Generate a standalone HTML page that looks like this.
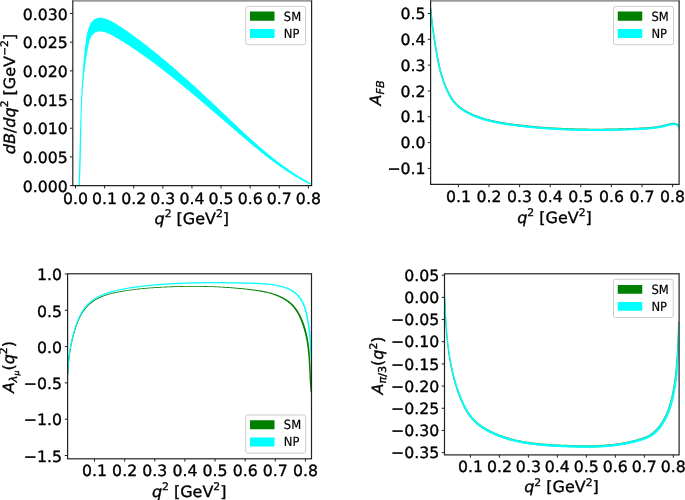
<!DOCTYPE html>
<html><head><meta charset="utf-8"><title>plot</title>
<style>html,body{margin:0;padding:0;background:#fff;}svg{display:block;}</style></head>
<body>
<svg width="685" height="500" viewBox="0 0 685 500" font-family='"DejaVu Sans", "Liberation Sans", sans-serif' fill="#000" stroke="#000" stroke-width="0">
<rect width="685" height="500" fill="#fff"/>
<style>text{text-rendering:geometricPrecision;stroke:#000;stroke-width:0.35px;stroke-linejoin:round}text.lg{stroke-width:0.2px}</style>
<clipPath id="c1"><rect x="72.8" y="0.5" width="238.8" height="185.2"/></clipPath>
<path d="M78.49 185.95 L78.55 184.46 L78.60 182.98 L78.65 181.50 L78.70 180.02 L78.75 178.53 L78.80 177.05 L78.85 175.56 L78.89 174.08 L78.94 172.59 L78.98 171.11 L79.02 169.62 L79.07 168.13 L79.11 166.65 L79.15 165.16 L79.19 163.67 L79.23 162.18 L79.27 160.69 L79.31 159.20 L79.35 157.71 L79.38 156.22 L79.42 154.73 L79.46 153.24 L79.50 151.75 L79.53 150.26 L79.57 148.77 L79.61 147.28 L79.65 145.79 L79.68 144.29 L79.72 142.80 L79.76 141.31 L79.80 139.82 L79.84 138.32 L79.87 136.83 L79.91 135.34 L79.95 133.85 L79.99 132.35 L80.03 130.86 L80.07 129.37 L80.12 127.87 L80.16 126.38 L80.20 124.89 L80.25 123.39 L80.29 121.90 L80.34 120.41 L80.39 118.91 L80.44 117.42 L80.49 115.93 L80.54 114.44 L80.59 112.94 L80.64 111.45 L80.70 109.96 L80.75 108.47 L80.81 106.97 L80.87 105.48 L80.93 103.99 L81.00 102.50 L81.06 101.01 L81.13 99.52 L81.19 98.03 L81.26 96.53 L81.34 95.04 L81.41 93.55 L81.49 92.07 L81.56 90.58 L81.64 89.09 L81.73 87.60 L81.81 86.11 L81.90 84.62 L81.99 83.14 L82.08 81.65 L82.17 80.16 L82.27 78.68 L82.37 77.19 L82.47 75.71 L82.58 74.22 L82.69 72.74 L82.80 71.25 L82.91 69.77 L83.03 68.29 L83.15 66.81 L83.27 65.33 L83.39 63.85 L83.52 62.37 L83.65 60.89 L83.79 59.41 L83.93 57.93 L84.07 56.45 L84.22 54.98 L84.37 53.50 L84.52 52.03 L84.67 50.55 L84.83 49.08 L85.00 47.61 L85.16 46.13 L85.34 44.66 L85.51 43.19 L85.70 41.72 L85.90 40.25 L86.12 38.78 L86.36 37.30 L86.62 35.83 L86.92 34.35 L87.25 32.87 L87.61 31.39 L88.02 29.90 L88.48 28.41 L88.99 26.94 L89.57 25.51 L90.23 24.14 L90.98 22.86 L91.83 21.68 L92.79 20.63 L93.88 19.73 L95.07 19.00 L96.35 18.43 L97.71 18.03 L99.11 17.82 L100.56 17.79 L102.02 17.93 L103.50 18.21 L104.98 18.61 L106.46 19.11 L107.90 19.67 L109.32 20.28 L110.71 20.94 L112.06 21.62 L113.38 22.33 L114.68 23.07 L115.96 23.83 L117.22 24.60 L118.46 25.39 L119.70 26.18 L120.93 26.99 L122.17 27.80 L123.39 28.62 L124.62 29.45 L125.84 30.28 L127.07 31.12 L128.28 31.96 L129.50 32.81 L130.71 33.67 L131.92 34.53 L133.13 35.40 L134.34 36.27 L135.54 37.15 L136.74 38.03 L137.94 38.92 L139.14 39.81 L140.33 40.71 L141.52 41.61 L142.71 42.51 L143.89 43.42 L145.08 44.34 L146.26 45.25 L147.44 46.17 L148.61 47.10 L149.79 48.03 L150.96 48.96 L152.13 49.89 L153.29 50.83 L154.46 51.77 L155.62 52.71 L156.78 53.66 L157.94 54.60 L159.09 55.55 L160.25 56.50 L161.40 57.46 L162.55 58.41 L163.69 59.37 L164.84 60.33 L165.98 61.29 L167.12 62.25 L168.25 63.21 L169.39 64.18 L170.52 65.15 L171.66 66.12 L172.79 67.09 L173.91 68.06 L175.04 69.04 L176.16 70.01 L177.29 70.99 L178.41 71.97 L179.53 72.95 L180.64 73.93 L181.76 74.92 L182.87 75.90 L183.99 76.89 L185.10 77.88 L186.21 78.87 L187.32 79.86 L188.42 80.85 L189.53 81.85 L190.63 82.84 L191.74 83.84 L192.84 84.84 L193.94 85.84 L195.04 86.84 L196.14 87.84 L197.23 88.84 L198.33 89.85 L199.42 90.85 L200.52 91.86 L201.61 92.87 L202.70 93.88 L203.79 94.89 L204.89 95.90 L205.97 96.92 L207.06 97.93 L208.15 98.94 L209.24 99.96 L210.33 100.98 L211.41 102.00 L212.50 103.02 L213.58 104.04 L214.67 105.06 L215.75 106.08 L216.83 107.10 L217.92 108.13 L219.00 109.15 L220.08 110.18 L221.16 111.20 L222.25 112.23 L223.33 113.26 L224.41 114.29 L225.49 115.31 L226.57 116.34 L227.65 117.37 L228.74 118.40 L229.82 119.43 L230.90 120.46 L231.99 121.49 L233.07 122.51 L234.15 123.54 L235.24 124.57 L236.33 125.59 L237.41 126.62 L238.50 127.64 L239.59 128.66 L240.68 129.68 L241.78 130.70 L242.87 131.72 L243.97 132.73 L245.06 133.75 L246.16 134.76 L247.26 135.77 L248.36 136.78 L249.47 137.78 L250.57 138.78 L251.68 139.78 L252.79 140.78 L253.90 141.78 L255.02 142.77 L256.13 143.76 L257.25 144.74 L258.37 145.72 L259.50 146.70 L260.63 147.68 L261.76 148.65 L262.89 149.61 L264.02 150.58 L265.16 151.54 L266.31 152.49 L267.45 153.44 L268.60 154.39 L269.75 155.33 L270.91 156.27 L272.07 157.20 L273.23 158.13 L274.40 159.05 L275.57 159.97 L276.74 160.88 L277.92 161.78 L279.10 162.68 L280.29 163.58 L281.48 164.47 L282.67 165.35 L283.87 166.23 L285.08 167.10 L286.29 167.97 L287.50 168.82 L288.72 169.68 L289.94 170.52 L291.17 171.36 L292.40 172.19 L293.64 173.02 L294.88 173.84 L296.13 174.65 L297.38 175.45 L298.64 176.24 L299.91 177.03 L301.18 177.81 L302.45 178.58 L303.74 179.35 L305.02 180.10 L306.32 180.85 L307.62 181.59 L308.92 182.32 L310.23 183.05 L311.55 183.76 L311.53 185.12 L310.25 184.50 L308.97 183.88 L307.70 183.25 L306.43 182.61 L305.17 181.96 L303.92 181.30 L302.67 180.63 L301.43 179.95 L300.19 179.26 L298.96 178.57 L297.73 177.86 L296.51 177.15 L295.29 176.43 L294.08 175.71 L292.87 174.97 L291.67 174.23 L290.47 173.48 L289.28 172.72 L288.09 171.96 L286.91 171.18 L285.73 170.41 L284.56 169.62 L283.39 168.83 L282.22 168.03 L281.06 167.23 L279.90 166.42 L278.75 165.60 L277.60 164.78 L276.45 163.95 L275.31 163.12 L274.17 162.28 L273.03 161.44 L271.90 160.59 L270.77 159.74 L269.65 158.88 L268.52 158.02 L267.40 157.16 L266.28 156.29 L265.17 155.41 L264.06 154.53 L262.95 153.65 L261.84 152.77 L260.74 151.88 L259.63 150.99 L258.53 150.09 L257.44 149.20 L256.34 148.30 L255.25 147.39 L254.15 146.49 L253.06 145.58 L251.97 144.67 L250.89 143.76 L249.80 142.84 L248.72 141.93 L247.63 141.01 L246.55 140.09 L245.47 139.18 L244.39 138.26 L243.31 137.33 L242.23 136.41 L241.16 135.49 L240.08 134.57 L239.00 133.64 L237.93 132.72 L236.85 131.80 L235.78 130.87 L234.70 129.95 L233.63 129.03 L232.56 128.10 L231.48 127.18 L230.41 126.25 L229.34 125.33 L228.27 124.40 L227.19 123.48 L226.12 122.56 L225.05 121.63 L223.98 120.71 L222.90 119.79 L221.83 118.86 L220.76 117.94 L219.69 117.02 L218.62 116.09 L217.55 115.17 L216.47 114.25 L215.40 113.33 L214.33 112.40 L213.25 111.48 L212.18 110.56 L211.11 109.64 L210.03 108.72 L208.96 107.80 L207.89 106.88 L206.81 105.97 L205.74 105.05 L204.66 104.13 L203.58 103.21 L202.51 102.30 L201.43 101.38 L200.35 100.47 L199.27 99.56 L198.19 98.64 L197.11 97.73 L196.03 96.82 L194.95 95.91 L193.86 95.00 L192.78 94.09 L191.70 93.18 L190.61 92.28 L189.52 91.37 L188.44 90.47 L187.35 89.56 L186.26 88.66 L185.17 87.76 L184.07 86.86 L182.98 85.96 L181.89 85.06 L180.79 84.16 L179.69 83.27 L178.60 82.37 L177.50 81.48 L176.40 80.59 L175.29 79.70 L174.19 78.81 L173.09 77.92 L171.98 77.04 L170.87 76.15 L169.76 75.27 L168.65 74.39 L167.54 73.51 L166.42 72.64 L165.31 71.76 L164.19 70.89 L163.07 70.02 L161.95 69.16 L160.82 68.29 L159.70 67.43 L158.57 66.57 L157.44 65.71 L156.31 64.86 L155.18 64.01 L154.05 63.16 L152.91 62.31 L151.77 61.47 L150.63 60.63 L149.49 59.79 L148.34 58.96 L147.20 58.13 L146.05 57.30 L144.89 56.48 L143.74 55.65 L142.58 54.84 L141.43 54.02 L140.27 53.21 L139.10 52.41 L137.94 51.61 L136.77 50.81 L135.60 50.01 L134.42 49.22 L133.25 48.43 L132.07 47.65 L130.89 46.87 L129.71 46.10 L128.52 45.33 L127.33 44.56 L126.14 43.80 L124.95 43.05 L123.75 42.30 L122.55 41.55 L121.35 40.81 L120.14 40.07 L118.93 39.34 L117.72 38.61 L116.51 37.89 L115.29 37.17 L114.07 36.46 L112.84 35.77 L111.59 35.10 L110.34 34.46 L109.06 33.85 L107.77 33.29 L106.45 32.77 L105.10 32.31 L103.72 31.92 L102.31 31.60 L100.88 31.38 L99.44 31.35 L98.02 31.54 L96.64 31.95 L95.34 32.55 L94.14 33.32 L93.08 34.22 L92.17 35.23 L91.40 36.34 L90.76 37.52 L90.22 38.78 L89.76 40.09 L89.38 41.44 L89.04 42.82 L88.74 44.22 L88.46 45.63 L88.18 47.03 L87.90 48.44 L87.64 49.84 L87.38 51.25 L87.13 52.66 L86.89 54.06 L86.65 55.47 L86.42 56.87 L86.20 58.28 L85.99 59.69 L85.78 61.10 L85.58 62.50 L85.38 63.91 L85.19 65.32 L85.01 66.73 L84.83 68.13 L84.66 69.54 L84.50 70.95 L84.34 72.36 L84.18 73.77 L84.03 75.18 L83.89 76.58 L83.75 77.99 L83.62 79.40 L83.49 80.81 L83.37 82.22 L83.25 83.63 L83.14 85.04 L83.03 86.45 L82.92 87.86 L82.82 89.27 L82.73 90.68 L82.63 92.09 L82.55 93.50 L82.46 94.91 L82.38 96.32 L82.30 97.74 L82.23 99.15 L82.16 100.56 L82.09 101.97 L82.03 103.38 L81.97 104.79 L81.91 106.21 L81.85 107.62 L81.80 109.03 L81.75 110.44 L81.70 111.85 L81.66 113.27 L81.61 114.68 L81.57 116.09 L81.53 117.51 L81.50 118.92 L81.46 120.33 L81.43 121.75 L81.40 123.16 L81.36 124.57 L81.33 125.99 L81.31 127.40 L81.28 128.81 L81.25 130.23 L81.23 131.64 L81.20 133.06 L81.18 134.47 L81.15 135.89 L81.13 137.30 L81.10 138.72 L81.08 140.13 L81.06 141.55 L81.03 142.96 L81.01 144.38 L80.99 145.79 L80.96 147.21 L80.94 148.62 L80.91 150.04 L80.88 151.45 L80.86 152.87 L80.83 154.28 L80.80 155.70 L80.77 157.12 L80.73 158.53 L80.70 159.95 L80.66 161.37 L80.63 162.78 L80.59 164.20 L80.54 165.61 L80.50 167.03 L80.45 168.45 L80.41 169.86 L80.36 171.28 L80.30 172.70 L80.25 174.12 L80.19 175.53 L80.13 176.95 L80.06 178.37 L79.99 179.78 L79.92 181.20 L79.85 182.62 L79.77 184.04 L79.69 185.45 Z" fill="#00ffff" clip-path="url(#c1)"/>
<rect x="72.3" y="0" width="239.8" height="1.7" fill="#999"/>
<path d="M72.8 0.6 V185.7 H311.6 V0.6" fill="none" stroke="#222" stroke-width="1.2"/>
<line x1="75.50" y1="185.7" x2="75.50" y2="188.5" stroke="#222" stroke-width="1.0"/>
<text transform="translate(75.50 203.55) scale(1.015 1)" font-size="15.5" text-anchor="middle">0.0</text>
<line x1="104.61" y1="185.7" x2="104.61" y2="188.5" stroke="#222" stroke-width="1.0"/>
<text transform="translate(104.61 203.55) scale(1.015 1)" font-size="15.5" text-anchor="middle">0.1</text>
<line x1="133.72" y1="185.7" x2="133.72" y2="188.5" stroke="#222" stroke-width="1.0"/>
<text transform="translate(133.72 203.55) scale(1.015 1)" font-size="15.5" text-anchor="middle">0.2</text>
<line x1="162.83" y1="185.7" x2="162.83" y2="188.5" stroke="#222" stroke-width="1.0"/>
<text transform="translate(162.83 203.55) scale(1.015 1)" font-size="15.5" text-anchor="middle">0.3</text>
<line x1="191.94" y1="185.7" x2="191.94" y2="188.5" stroke="#222" stroke-width="1.0"/>
<text transform="translate(191.94 203.55) scale(1.015 1)" font-size="15.5" text-anchor="middle">0.4</text>
<line x1="221.05" y1="185.7" x2="221.05" y2="188.5" stroke="#222" stroke-width="1.0"/>
<text transform="translate(221.05 203.55) scale(1.015 1)" font-size="15.5" text-anchor="middle">0.5</text>
<line x1="250.16" y1="185.7" x2="250.16" y2="188.5" stroke="#222" stroke-width="1.0"/>
<text transform="translate(250.16 203.55) scale(1.015 1)" font-size="15.5" text-anchor="middle">0.6</text>
<line x1="279.27" y1="185.7" x2="279.27" y2="188.5" stroke="#222" stroke-width="1.0"/>
<text transform="translate(279.27 203.55) scale(1.015 1)" font-size="15.5" text-anchor="middle">0.7</text>
<line x1="308.38" y1="185.7" x2="308.38" y2="188.5" stroke="#222" stroke-width="1.0"/>
<text transform="translate(308.38 203.55) scale(1.015 1)" font-size="15.5" text-anchor="middle">0.8</text>
<line x1="70.0" y1="13.50" x2="72.8" y2="13.50" stroke="#222" stroke-width="1.0"/>
<text transform="translate(67.80 19.70) scale(1.015 1)" font-size="15.5" text-anchor="end">0.030</text>
<line x1="70.0" y1="42.18" x2="72.8" y2="42.18" stroke="#222" stroke-width="1.0"/>
<text transform="translate(67.80 48.38) scale(1.015 1)" font-size="15.5" text-anchor="end">0.025</text>
<line x1="70.0" y1="70.86" x2="72.8" y2="70.86" stroke="#222" stroke-width="1.0"/>
<text transform="translate(67.80 77.06) scale(1.015 1)" font-size="15.5" text-anchor="end">0.020</text>
<line x1="70.0" y1="99.54" x2="72.8" y2="99.54" stroke="#222" stroke-width="1.0"/>
<text transform="translate(67.80 105.74) scale(1.015 1)" font-size="15.5" text-anchor="end">0.015</text>
<line x1="70.0" y1="128.22" x2="72.8" y2="128.22" stroke="#222" stroke-width="1.0"/>
<text transform="translate(67.80 134.42) scale(1.015 1)" font-size="15.5" text-anchor="end">0.010</text>
<line x1="70.0" y1="156.90" x2="72.8" y2="156.90" stroke="#222" stroke-width="1.0"/>
<text transform="translate(67.80 163.10) scale(1.015 1)" font-size="15.5" text-anchor="end">0.005</text>
<line x1="70.0" y1="185.58" x2="72.8" y2="185.58" stroke="#222" stroke-width="1.0"/>
<text transform="translate(67.80 191.78) scale(1.015 1)" font-size="15.5" text-anchor="end">0.000</text>
<text transform="translate(191.80 223.70) scale(1.03 1)" font-size="15.5" text-anchor="middle"><tspan font-style="italic">q</tspan><tspan font-size="10.5" dy="-6.7">2</tspan><tspan dy="6.7"> [GeV</tspan><tspan font-size="10.5" dy="-6.7">2</tspan><tspan dy="6.7">]</tspan></text>
<text transform="translate(14.70 94.00) rotate(-90) scale(1.03 1)" font-size="15.5" text-anchor="middle"><tspan font-style="italic">dB</tspan>/<tspan font-style="italic">dq</tspan><tspan font-size="10.5" dy="-6.7">2</tspan><tspan dy="6.7"> [GeV</tspan><tspan font-size="10.5" dy="-6.7">−2</tspan><tspan dy="6.7">]</tspan></text>
<rect x="245.75" y="6.4" width="59.85000000000002" height="38.35" rx="2" ry="2" fill="#fff" fill-opacity="0.8" stroke="#cccccc" stroke-width="1"/>
<rect x="250" y="11.5" width="24.5" height="9.25" fill="#008000"/>
<rect x="250" y="29" width="24.5" height="9" fill="#00ffff"/>
<text class="lg" transform="translate(283.80 20.55) scale(0.91 1)" font-size="12.7" text-anchor="start">SM</text>
<text class="lg" transform="translate(283.80 37.80) scale(0.91 1)" font-size="12.7" text-anchor="start">NP</text>
<clipPath id="c2"><rect x="430.6" y="0.5" width="248.5" height="183.9"/></clipPath>
<path d="M429.94 8.69 L430.01 9.53 L430.08 10.36 L430.16 11.19 L430.23 12.02 L430.31 12.86 L430.39 13.69 L430.47 14.52 L430.55 15.34 L430.64 16.17 L430.73 17.00 L430.82 17.83 L430.91 18.65 L431.00 19.48 L431.09 20.30 L431.19 21.13 L431.29 21.95 L431.38 22.78 L431.48 23.60 L431.59 24.42 L431.69 25.24 L431.80 26.07 L431.90 26.89 L432.01 27.71 L432.12 28.53 L432.23 29.35 L432.34 30.17 L432.45 30.99 L432.57 31.81 L432.68 32.63 L432.79 33.45 L432.91 34.27 L433.03 35.09 L433.15 35.91 L433.27 36.73 L433.39 37.55 L433.51 38.37 L433.63 39.19 L433.76 40.01 L433.88 40.83 L434.01 41.65 L434.14 42.47 L434.27 43.29 L434.39 44.11 L434.52 44.93 L434.66 45.75 L434.79 46.57 L434.92 47.39 L435.06 48.21 L435.19 49.03 L435.33 49.85 L435.47 50.67 L435.61 51.49 L435.75 52.31 L435.89 53.13 L436.04 53.95 L436.18 54.77 L436.33 55.59 L436.48 56.41 L436.63 57.23 L436.79 58.05 L436.95 58.87 L437.11 59.69 L437.27 60.51 L437.43 61.33 L437.60 62.14 L437.76 62.96 L437.94 63.78 L438.11 64.59 L438.29 65.41 L438.47 66.22 L438.66 67.04 L438.85 67.85 L439.04 68.66 L439.24 69.47 L439.44 70.28 L439.64 71.09 L439.85 71.89 L440.07 72.70 L440.29 73.50 L440.51 74.31 L440.74 75.11 L440.97 75.91 L441.21 76.71 L441.45 77.51 L441.70 78.30 L441.96 79.09 L442.22 79.89 L442.48 80.68 L442.75 81.47 L443.03 82.25 L443.31 83.04 L443.60 83.82 L443.89 84.60 L444.20 85.38 L444.50 86.16 L444.82 86.93 L445.14 87.70 L445.47 88.47 L445.80 89.24 L446.15 90.01 L446.49 90.77 L446.85 91.53 L447.22 92.29 L447.59 93.04 L447.97 93.80 L448.36 94.54 L448.76 95.29 L449.17 96.03 L449.59 96.77 L450.02 97.49 L450.46 98.22 L450.91 98.93 L451.38 99.64 L451.86 100.34 L452.35 101.02 L452.86 101.70 L453.38 102.37 L453.92 103.02 L454.47 103.66 L455.04 104.29 L455.63 104.90 L456.23 105.50 L456.84 106.09 L457.47 106.66 L458.11 107.21 L458.76 107.76 L459.42 108.29 L460.10 108.80 L460.78 109.31 L461.48 109.80 L462.18 110.28 L462.89 110.75 L463.61 111.21 L464.33 111.65 L465.07 112.09 L465.80 112.51 L466.55 112.93 L467.30 113.33 L468.05 113.73 L468.80 114.11 L469.56 114.49 L470.33 114.86 L471.09 115.22 L471.86 115.57 L472.63 115.91 L473.41 116.25 L474.19 116.57 L474.97 116.89 L475.75 117.20 L476.54 117.51 L477.33 117.80 L478.12 118.09 L478.91 118.37 L479.70 118.65 L480.50 118.92 L481.30 119.18 L482.09 119.43 L482.89 119.68 L483.69 119.92 L484.50 120.15 L485.30 120.38 L486.10 120.61 L486.91 120.82 L487.72 121.04 L488.52 121.24 L489.33 121.45 L490.14 121.64 L490.95 121.84 L491.76 122.02 L492.57 122.21 L493.39 122.39 L494.20 122.56 L495.01 122.73 L495.83 122.90 L496.65 123.06 L497.46 123.22 L498.28 123.37 L499.10 123.52 L499.91 123.67 L500.73 123.81 L501.55 123.95 L502.37 124.09 L503.19 124.22 L504.01 124.35 L504.84 124.48 L505.66 124.61 L506.48 124.73 L507.30 124.86 L508.12 124.97 L508.95 125.09 L509.77 125.21 L510.59 125.32 L511.41 125.43 L512.24 125.54 L513.06 125.65 L513.88 125.76 L514.71 125.87 L515.53 125.97 L516.36 126.07 L517.18 126.18 L518.00 126.28 L518.83 126.38 L519.65 126.48 L520.48 126.57 L521.30 126.67 L522.13 126.76 L522.95 126.86 L523.78 126.95 L524.61 127.04 L525.43 127.13 L526.26 127.22 L527.08 127.30 L527.91 127.39 L528.74 127.47 L529.56 127.56 L530.39 127.64 L531.22 127.72 L532.04 127.80 L532.87 127.88 L533.70 127.96 L534.53 128.03 L535.35 128.11 L536.18 128.18 L537.01 128.25 L537.84 128.32 L538.67 128.39 L539.49 128.46 L540.32 128.53 L541.15 128.60 L541.98 128.66 L542.81 128.73 L543.64 128.79 L544.47 128.85 L545.30 128.91 L546.13 128.97 L546.96 129.03 L547.78 129.09 L548.61 129.15 L549.44 129.20 L550.27 129.26 L551.10 129.31 L551.93 129.36 L552.76 129.41 L553.59 129.46 L554.42 129.51 L555.25 129.56 L556.08 129.61 L556.91 129.65 L557.74 129.70 L558.57 129.74 L559.41 129.78 L560.24 129.82 L561.07 129.86 L561.90 129.90 L562.73 129.94 L563.56 129.98 L564.39 130.01 L565.22 130.05 L566.05 130.08 L566.88 130.12 L567.71 130.15 L568.54 130.18 L569.38 130.21 L570.21 130.24 L571.04 130.27 L571.87 130.29 L572.70 130.32 L573.53 130.34 L574.36 130.37 L575.19 130.39 L576.02 130.41 L576.86 130.43 L577.69 130.45 L578.52 130.47 L579.35 130.49 L580.18 130.51 L581.01 130.53 L581.84 130.54 L582.67 130.56 L583.51 130.57 L584.34 130.58 L585.17 130.59 L586.00 130.61 L586.83 130.62 L587.66 130.62 L588.49 130.63 L589.32 130.64 L590.15 130.65 L590.99 130.65 L591.82 130.66 L592.65 130.66 L593.48 130.66 L594.31 130.67 L595.14 130.67 L595.97 130.67 L596.80 130.67 L597.63 130.67 L598.46 130.66 L599.29 130.66 L600.12 130.66 L600.95 130.65 L601.78 130.65 L602.61 130.64 L603.44 130.64 L604.27 130.63 L605.10 130.62 L605.93 130.61 L606.76 130.60 L607.59 130.59 L608.42 130.58 L609.25 130.56 L610.08 130.55 L610.91 130.54 L611.74 130.52 L612.57 130.51 L613.40 130.49 L614.23 130.47 L615.06 130.46 L615.89 130.44 L616.71 130.42 L617.54 130.40 L618.37 130.38 L619.20 130.36 L620.03 130.33 L620.86 130.31 L621.68 130.29 L622.51 130.26 L623.34 130.24 L624.17 130.21 L624.99 130.19 L625.82 130.16 L626.65 130.13 L627.47 130.10 L628.30 130.07 L629.13 130.04 L629.95 130.01 L630.78 129.98 L631.61 129.95 L632.43 129.92 L633.26 129.89 L634.08 129.85 L634.91 129.82 L635.73 129.78 L636.56 129.75 L637.38 129.71 L638.21 129.68 L639.03 129.64 L639.86 129.60 L640.68 129.56 L641.51 129.52 L642.33 129.48 L643.16 129.44 L643.98 129.40 L644.81 129.35 L645.64 129.30 L646.46 129.25 L647.29 129.19 L648.12 129.13 L648.95 129.07 L649.78 129.00 L650.61 128.93 L651.44 128.85 L652.27 128.76 L653.10 128.67 L653.94 128.58 L654.77 128.47 L655.61 128.36 L656.44 128.24 L657.28 128.12 L658.12 127.98 L658.96 127.84 L659.80 127.69 L660.64 127.53 L661.48 127.36 L662.33 127.18 L663.17 126.99 L664.02 126.78 L664.87 126.57 L665.71 126.35 L666.55 126.12 L667.39 125.90 L668.21 125.68 L669.03 125.47 L669.84 125.28 L670.64 125.11 L671.42 124.97 L672.19 124.86 L672.95 124.77 L673.67 124.73 L674.36 124.74 L675.01 124.81 L675.61 124.93 L676.16 125.11 L676.67 125.36 L677.13 125.71 L677.55 126.17 L677.93 126.76 L678.25 127.51 L678.50 128.41 L679.97 128.13 L679.71 127.03 L679.35 126.07 L678.88 125.23 L678.31 124.53 L677.65 123.95 L676.93 123.49 L676.16 123.15 L675.34 122.93 L674.51 122.82 L673.66 122.78 L672.80 122.80 L671.95 122.87 L671.10 122.99 L670.25 123.15 L669.40 123.33 L668.55 123.53 L667.71 123.74 L666.87 123.96 L666.03 124.19 L665.20 124.42 L664.37 124.64 L663.54 124.84 L662.72 125.04 L661.90 125.22 L661.08 125.40 L660.26 125.57 L659.43 125.72 L658.61 125.87 L657.79 126.01 L656.98 126.14 L656.16 126.27 L655.34 126.38 L654.52 126.49 L653.70 126.59 L652.88 126.69 L652.06 126.77 L651.25 126.86 L650.43 126.94 L649.61 127.01 L648.79 127.07 L647.97 127.14 L647.15 127.20 L646.33 127.25 L645.51 127.30 L644.69 127.35 L643.87 127.40 L643.05 127.44 L642.23 127.49 L641.41 127.53 L640.59 127.57 L639.77 127.60 L638.94 127.64 L638.12 127.68 L637.30 127.72 L636.47 127.75 L635.65 127.79 L634.83 127.82 L634.00 127.86 L633.18 127.89 L632.35 127.92 L631.53 127.95 L630.70 127.98 L629.88 128.02 L629.06 128.05 L628.23 128.08 L627.41 128.10 L626.58 128.13 L625.75 128.16 L624.93 128.19 L624.10 128.21 L623.28 128.24 L622.45 128.26 L621.63 128.29 L620.80 128.31 L619.97 128.33 L619.15 128.36 L618.32 128.38 L617.49 128.40 L616.67 128.42 L615.84 128.44 L615.01 128.46 L614.19 128.47 L613.36 128.49 L612.53 128.51 L611.70 128.52 L610.88 128.54 L610.05 128.55 L609.22 128.56 L608.39 128.58 L607.57 128.59 L606.74 128.60 L605.91 128.61 L605.08 128.62 L604.25 128.63 L603.43 128.64 L602.60 128.64 L601.77 128.65 L600.94 128.65 L600.11 128.66 L599.28 128.66 L598.46 128.66 L597.63 128.67 L596.80 128.67 L595.97 128.67 L595.14 128.67 L594.31 128.67 L593.48 128.66 L592.66 128.66 L591.83 128.66 L591.00 128.65 L590.17 128.65 L589.34 128.64 L588.51 128.63 L587.68 128.62 L586.85 128.62 L586.02 128.61 L585.20 128.59 L584.37 128.58 L583.54 128.57 L582.71 128.56 L581.88 128.54 L581.05 128.53 L580.22 128.51 L579.39 128.49 L578.56 128.47 L577.73 128.45 L576.91 128.43 L576.08 128.41 L575.25 128.39 L574.42 128.37 L573.59 128.34 L572.76 128.32 L571.93 128.29 L571.10 128.27 L570.28 128.24 L569.45 128.21 L568.62 128.18 L567.79 128.15 L566.96 128.12 L566.13 128.08 L565.30 128.05 L564.48 128.02 L563.65 127.98 L562.82 127.94 L561.99 127.90 L561.16 127.86 L560.33 127.82 L559.51 127.78 L558.68 127.74 L557.85 127.70 L557.02 127.65 L556.19 127.61 L555.37 127.56 L554.54 127.51 L553.71 127.47 L552.88 127.42 L552.06 127.37 L551.23 127.31 L550.40 127.26 L549.58 127.21 L548.75 127.15 L547.92 127.10 L547.09 127.04 L546.27 126.98 L545.44 126.92 L544.62 126.86 L543.79 126.80 L542.96 126.73 L542.14 126.67 L541.31 126.60 L540.49 126.54 L539.66 126.47 L538.83 126.40 L538.01 126.33 L537.18 126.26 L536.36 126.19 L535.53 126.12 L534.71 126.04 L533.88 125.96 L533.06 125.89 L532.23 125.81 L531.41 125.73 L530.59 125.65 L529.76 125.57 L528.94 125.48 L528.11 125.40 L527.29 125.31 L526.47 125.23 L525.65 125.14 L524.82 125.05 L524.00 124.96 L523.18 124.87 L522.35 124.78 L521.53 124.68 L520.71 124.59 L519.89 124.49 L519.07 124.39 L518.25 124.29 L517.42 124.19 L516.60 124.09 L515.78 123.99 L514.96 123.88 L514.14 123.78 L513.32 123.67 L512.50 123.56 L511.68 123.45 L510.86 123.34 L510.04 123.23 L509.23 123.11 L508.41 122.99 L507.59 122.88 L506.77 122.76 L505.96 122.63 L505.14 122.51 L504.33 122.38 L503.51 122.25 L502.70 122.12 L501.89 121.98 L501.08 121.84 L500.26 121.70 L499.45 121.55 L498.65 121.40 L497.84 121.25 L497.03 121.09 L496.22 120.93 L495.42 120.77 L494.61 120.60 L493.81 120.43 L493.01 120.26 L492.21 120.07 L491.41 119.89 L490.61 119.70 L489.81 119.51 L489.01 119.31 L488.22 119.10 L487.43 118.89 L486.63 118.68 L485.84 118.46 L485.05 118.23 L484.26 118.00 L483.48 117.76 L482.69 117.52 L481.91 117.27 L481.13 117.02 L480.34 116.76 L479.56 116.50 L478.79 116.22 L478.01 115.95 L477.24 115.66 L476.46 115.37 L475.70 115.07 L474.93 114.77 L474.17 114.45 L473.41 114.13 L472.65 113.80 L471.90 113.47 L471.15 113.12 L470.40 112.77 L469.66 112.40 L468.92 112.03 L468.18 111.65 L467.45 111.26 L466.73 110.87 L466.01 110.46 L465.30 110.04 L464.60 109.62 L463.90 109.18 L463.21 108.73 L462.53 108.27 L461.86 107.81 L461.20 107.33 L460.55 106.83 L459.91 106.33 L459.29 105.82 L458.68 105.29 L458.08 104.75 L457.49 104.20 L456.92 103.64 L456.36 103.06 L455.81 102.47 L455.29 101.86 L454.77 101.25 L454.27 100.61 L453.78 99.97 L453.30 99.32 L452.84 98.65 L452.38 97.97 L451.94 97.29 L451.51 96.59 L451.08 95.89 L450.67 95.18 L450.27 94.46 L449.87 93.74 L449.49 93.01 L449.11 92.28 L448.74 91.54 L448.38 90.80 L448.02 90.05 L447.67 89.31 L447.33 88.56 L447.00 87.81 L446.67 87.05 L446.35 86.30 L446.03 85.54 L445.72 84.78 L445.42 84.01 L445.13 83.25 L444.84 82.48 L444.55 81.71 L444.27 80.93 L444.00 80.16 L443.73 79.38 L443.47 78.60 L443.22 77.82 L442.97 77.03 L442.73 76.25 L442.49 75.46 L442.25 74.67 L442.02 73.88 L441.80 73.09 L441.58 72.29 L441.36 71.49 L441.15 70.70 L440.94 69.90 L440.74 69.10 L440.54 68.30 L440.34 67.49 L440.15 66.69 L439.96 65.88 L439.78 65.08 L439.60 64.27 L439.42 63.46 L439.25 62.65 L439.08 61.84 L438.91 61.03 L438.74 60.21 L438.58 59.40 L438.42 58.59 L438.26 57.77 L438.11 56.96 L437.96 56.14 L437.81 55.32 L437.66 54.51 L437.51 53.69 L437.37 52.87 L437.23 52.05 L437.09 51.23 L436.95 50.42 L436.81 49.60 L436.67 48.78 L436.53 47.96 L436.40 47.14 L436.26 46.32 L436.13 45.51 L435.99 44.69 L435.86 43.87 L435.72 43.05 L435.59 42.24 L435.46 41.42 L435.33 40.60 L435.20 39.79 L435.07 38.97 L434.94 38.15 L434.82 37.34 L434.69 36.52 L434.57 35.70 L434.44 34.89 L434.32 34.07 L434.20 33.25 L434.08 32.43 L433.96 31.62 L433.85 30.80 L433.73 29.98 L433.62 29.16 L433.51 28.34 L433.40 27.53 L433.29 26.71 L433.18 25.89 L433.08 25.07 L432.98 24.25 L432.87 23.43 L432.77 22.61 L432.68 21.79 L432.58 20.97 L432.48 20.14 L432.39 19.32 L432.30 18.50 L432.21 17.68 L432.12 16.85 L432.03 16.03 L431.95 15.20 L431.86 14.38 L431.78 13.55 L431.70 12.72 L431.63 11.90 L431.55 11.07 L431.48 10.24 L431.41 9.41 L431.34 8.58 Z" fill="#008000" fill-opacity="0.75" clip-path="url(#c2)"/>
<path d="M429.94 9.04 L430.01 9.88 L430.08 10.71 L430.16 11.54 L430.23 12.37 L430.31 13.21 L430.39 14.04 L430.47 14.87 L430.55 15.69 L430.64 16.52 L430.73 17.35 L430.82 18.18 L430.91 19.00 L431.00 19.83 L431.09 20.65 L431.19 21.48 L431.29 22.30 L431.38 23.13 L431.48 23.95 L431.59 24.77 L431.69 25.59 L431.80 26.42 L431.90 27.24 L432.01 28.06 L432.12 28.88 L432.23 29.70 L432.34 30.52 L432.45 31.34 L432.57 32.16 L432.68 32.98 L432.79 33.80 L432.91 34.62 L433.03 35.44 L433.15 36.26 L433.27 37.08 L433.39 37.90 L433.51 38.72 L433.63 39.54 L433.76 40.36 L433.88 41.18 L434.01 42.00 L434.14 42.82 L434.27 43.64 L434.39 44.46 L434.52 45.28 L434.66 46.10 L434.79 46.92 L434.92 47.74 L435.06 48.56 L435.19 49.38 L435.33 50.20 L435.47 51.02 L435.61 51.84 L435.75 52.66 L435.89 53.48 L436.04 54.30 L436.18 55.12 L436.33 55.94 L436.48 56.76 L436.63 57.58 L436.79 58.40 L436.95 59.22 L437.11 60.04 L437.27 60.86 L437.43 61.68 L437.60 62.49 L437.76 63.31 L437.94 64.13 L438.11 64.94 L438.29 65.76 L438.47 66.57 L438.66 67.39 L438.85 68.20 L439.04 69.01 L439.24 69.82 L439.44 70.63 L439.64 71.44 L439.85 72.24 L440.07 73.05 L440.29 73.85 L440.51 74.66 L440.74 75.46 L440.97 76.26 L441.21 77.06 L441.45 77.86 L441.70 78.65 L441.96 79.44 L442.22 80.24 L442.48 81.03 L442.75 81.82 L443.03 82.60 L443.31 83.39 L443.60 84.17 L443.89 84.95 L444.20 85.73 L444.50 86.51 L444.82 87.28 L445.14 88.05 L445.47 88.82 L445.80 89.59 L446.15 90.36 L446.49 91.12 L446.85 91.88 L447.22 92.64 L447.59 93.39 L447.97 94.15 L448.36 94.89 L448.76 95.64 L449.17 96.38 L449.59 97.12 L450.02 97.84 L450.46 98.57 L450.91 99.28 L451.38 99.99 L451.86 100.69 L452.35 101.37 L452.86 102.05 L453.38 102.72 L453.92 103.37 L454.47 104.01 L455.04 104.64 L455.63 105.25 L456.23 105.85 L456.84 106.44 L457.47 107.01 L458.11 107.56 L458.76 108.11 L459.42 108.64 L460.10 109.15 L460.78 109.66 L461.48 110.15 L462.18 110.63 L462.89 111.10 L463.61 111.56 L464.33 112.00 L465.07 112.44 L465.80 112.86 L466.55 113.28 L467.30 113.68 L468.05 114.08 L468.80 114.46 L469.56 114.84 L470.33 115.21 L471.09 115.57 L471.86 115.92 L472.63 116.26 L473.41 116.60 L474.19 116.92 L474.97 117.24 L475.75 117.55 L476.54 117.86 L477.33 118.15 L478.12 118.44 L478.91 118.72 L479.70 119.00 L480.50 119.27 L481.30 119.53 L482.09 119.78 L482.89 120.03 L483.69 120.27 L484.50 120.50 L485.30 120.73 L486.10 120.96 L486.91 121.17 L487.72 121.39 L488.52 121.59 L489.33 121.80 L490.14 121.99 L490.95 122.19 L491.76 122.37 L492.57 122.56 L493.39 122.74 L494.20 122.91 L495.01 123.08 L495.83 123.25 L496.65 123.41 L497.46 123.57 L498.28 123.72 L499.10 123.87 L499.91 124.02 L500.73 124.16 L501.55 124.30 L502.37 124.44 L503.19 124.57 L504.01 124.70 L504.84 124.83 L505.66 124.96 L506.48 125.08 L507.30 125.21 L508.12 125.32 L508.95 125.44 L509.77 125.56 L510.59 125.67 L511.41 125.78 L512.24 125.89 L513.06 126.00 L513.88 126.11 L514.71 126.22 L515.53 126.32 L516.36 126.42 L517.18 126.53 L518.00 126.63 L518.83 126.73 L519.65 126.83 L520.48 126.92 L521.30 127.02 L522.13 127.11 L522.95 127.21 L523.78 127.30 L524.61 127.39 L525.43 127.48 L526.26 127.57 L527.08 127.65 L527.91 127.74 L528.74 127.82 L529.56 127.91 L530.39 127.99 L531.22 128.07 L532.04 128.15 L532.87 128.23 L533.70 128.31 L534.53 128.38 L535.35 128.46 L536.18 128.53 L537.01 128.60 L537.84 128.67 L538.67 128.74 L539.49 128.81 L540.32 128.88 L541.15 128.95 L541.98 129.01 L542.81 129.08 L543.64 129.14 L544.47 129.20 L545.30 129.26 L546.13 129.32 L546.96 129.38 L547.78 129.44 L548.61 129.50 L549.44 129.55 L550.27 129.61 L551.10 129.66 L551.93 129.71 L552.76 129.76 L553.59 129.81 L554.42 129.86 L555.25 129.91 L556.08 129.96 L556.91 130.00 L557.74 130.05 L558.57 130.09 L559.41 130.13 L560.24 130.17 L561.07 130.21 L561.90 130.25 L562.73 130.29 L563.56 130.33 L564.39 130.36 L565.22 130.40 L566.05 130.43 L566.88 130.47 L567.71 130.50 L568.54 130.53 L569.38 130.56 L570.21 130.59 L571.04 130.62 L571.87 130.64 L572.70 130.67 L573.53 130.69 L574.36 130.72 L575.19 130.74 L576.02 130.76 L576.86 130.78 L577.69 130.80 L578.52 130.82 L579.35 130.84 L580.18 130.86 L581.01 130.88 L581.84 130.89 L582.67 130.91 L583.51 130.92 L584.34 130.93 L585.17 130.94 L586.00 130.96 L586.83 130.97 L587.66 130.97 L588.49 130.98 L589.32 130.99 L590.15 131.00 L590.99 131.00 L591.82 131.01 L592.65 131.01 L593.48 131.01 L594.31 131.02 L595.14 131.02 L595.97 131.02 L596.80 131.02 L597.63 131.02 L598.46 131.01 L599.29 131.01 L600.12 131.01 L600.95 131.00 L601.78 131.00 L602.61 130.99 L603.44 130.99 L604.27 130.98 L605.10 130.97 L605.93 130.96 L606.76 130.95 L607.59 130.94 L608.42 130.93 L609.25 130.91 L610.08 130.90 L610.91 130.89 L611.74 130.87 L612.57 130.86 L613.40 130.84 L614.23 130.82 L615.06 130.81 L615.89 130.79 L616.71 130.77 L617.54 130.75 L618.37 130.73 L619.20 130.71 L620.03 130.68 L620.86 130.66 L621.68 130.64 L622.51 130.61 L623.34 130.59 L624.17 130.56 L624.99 130.54 L625.82 130.51 L626.65 130.48 L627.47 130.45 L628.30 130.42 L629.13 130.39 L629.95 130.36 L630.78 130.33 L631.61 130.30 L632.43 130.27 L633.26 130.24 L634.08 130.20 L634.91 130.17 L635.73 130.13 L636.56 130.10 L637.38 130.06 L638.21 130.03 L639.03 129.99 L639.86 129.95 L640.68 129.91 L641.51 129.87 L642.33 129.83 L643.16 129.79 L643.98 129.75 L644.81 129.70 L645.64 129.65 L646.46 129.60 L647.29 129.54 L648.12 129.48 L648.95 129.42 L649.78 129.35 L650.61 129.28 L651.44 129.20 L652.27 129.11 L653.10 129.02 L653.94 128.93 L654.77 128.82 L655.61 128.71 L656.44 128.59 L657.28 128.47 L658.12 128.33 L658.96 128.19 L659.80 128.04 L660.64 127.88 L661.48 127.71 L662.33 127.53 L663.17 127.34 L664.02 127.13 L664.87 126.92 L665.71 126.70 L666.55 126.47 L667.39 126.25 L668.21 126.03 L669.03 125.82 L669.84 125.63 L670.64 125.46 L671.42 125.32 L672.19 125.21 L672.95 125.12 L673.67 125.08 L674.36 125.09 L675.01 125.16 L675.61 125.28 L676.16 125.46 L676.67 125.71 L677.13 126.06 L677.55 126.52 L677.93 127.11 L678.25 127.86 L678.50 128.76 L679.97 128.48 L679.71 127.38 L679.35 126.42 L678.88 125.58 L678.31 124.88 L677.65 124.30 L676.93 123.84 L676.16 123.50 L675.34 123.28 L674.51 123.17 L673.66 123.13 L672.80 123.15 L671.95 123.22 L671.10 123.34 L670.25 123.50 L669.40 123.68 L668.55 123.88 L667.71 124.09 L666.87 124.31 L666.03 124.54 L665.20 124.77 L664.37 124.99 L663.54 125.19 L662.72 125.39 L661.90 125.57 L661.08 125.75 L660.26 125.92 L659.43 126.07 L658.61 126.22 L657.79 126.36 L656.98 126.49 L656.16 126.62 L655.34 126.73 L654.52 126.84 L653.70 126.94 L652.88 127.04 L652.06 127.12 L651.25 127.21 L650.43 127.29 L649.61 127.36 L648.79 127.42 L647.97 127.49 L647.15 127.55 L646.33 127.60 L645.51 127.65 L644.69 127.70 L643.87 127.75 L643.05 127.79 L642.23 127.84 L641.41 127.88 L640.59 127.92 L639.77 127.95 L638.94 127.99 L638.12 128.03 L637.30 128.07 L636.47 128.10 L635.65 128.14 L634.83 128.17 L634.00 128.21 L633.18 128.24 L632.35 128.27 L631.53 128.30 L630.70 128.33 L629.88 128.37 L629.06 128.40 L628.23 128.43 L627.41 128.45 L626.58 128.48 L625.75 128.51 L624.93 128.54 L624.10 128.56 L623.28 128.59 L622.45 128.61 L621.63 128.64 L620.80 128.66 L619.97 128.68 L619.15 128.71 L618.32 128.73 L617.49 128.75 L616.67 128.77 L615.84 128.79 L615.01 128.81 L614.19 128.82 L613.36 128.84 L612.53 128.86 L611.70 128.87 L610.88 128.89 L610.05 128.90 L609.22 128.91 L608.39 128.93 L607.57 128.94 L606.74 128.95 L605.91 128.96 L605.08 128.97 L604.25 128.98 L603.43 128.99 L602.60 128.99 L601.77 129.00 L600.94 129.00 L600.11 129.01 L599.28 129.01 L598.46 129.01 L597.63 129.02 L596.80 129.02 L595.97 129.02 L595.14 129.02 L594.31 129.02 L593.48 129.01 L592.66 129.01 L591.83 129.01 L591.00 129.00 L590.17 129.00 L589.34 128.99 L588.51 128.98 L587.68 128.97 L586.85 128.97 L586.02 128.96 L585.20 128.94 L584.37 128.93 L583.54 128.92 L582.71 128.91 L581.88 128.89 L581.05 128.88 L580.22 128.86 L579.39 128.84 L578.56 128.82 L577.73 128.80 L576.91 128.78 L576.08 128.76 L575.25 128.74 L574.42 128.72 L573.59 128.69 L572.76 128.67 L571.93 128.64 L571.10 128.62 L570.28 128.59 L569.45 128.56 L568.62 128.53 L567.79 128.50 L566.96 128.47 L566.13 128.43 L565.30 128.40 L564.48 128.37 L563.65 128.33 L562.82 128.29 L561.99 128.25 L561.16 128.21 L560.33 128.17 L559.51 128.13 L558.68 128.09 L557.85 128.05 L557.02 128.00 L556.19 127.96 L555.37 127.91 L554.54 127.86 L553.71 127.82 L552.88 127.77 L552.06 127.72 L551.23 127.66 L550.40 127.61 L549.58 127.56 L548.75 127.50 L547.92 127.45 L547.09 127.39 L546.27 127.33 L545.44 127.27 L544.62 127.21 L543.79 127.15 L542.96 127.08 L542.14 127.02 L541.31 126.95 L540.49 126.89 L539.66 126.82 L538.83 126.75 L538.01 126.68 L537.18 126.61 L536.36 126.54 L535.53 126.47 L534.71 126.39 L533.88 126.31 L533.06 126.24 L532.23 126.16 L531.41 126.08 L530.59 126.00 L529.76 125.92 L528.94 125.83 L528.11 125.75 L527.29 125.66 L526.47 125.58 L525.65 125.49 L524.82 125.40 L524.00 125.31 L523.18 125.22 L522.35 125.13 L521.53 125.03 L520.71 124.94 L519.89 124.84 L519.07 124.74 L518.25 124.64 L517.42 124.54 L516.60 124.44 L515.78 124.34 L514.96 124.23 L514.14 124.13 L513.32 124.02 L512.50 123.91 L511.68 123.80 L510.86 123.69 L510.04 123.58 L509.23 123.46 L508.41 123.34 L507.59 123.23 L506.77 123.11 L505.96 122.98 L505.14 122.86 L504.33 122.73 L503.51 122.60 L502.70 122.47 L501.89 122.33 L501.08 122.19 L500.26 122.05 L499.45 121.90 L498.65 121.75 L497.84 121.60 L497.03 121.44 L496.22 121.28 L495.42 121.12 L494.61 120.95 L493.81 120.78 L493.01 120.61 L492.21 120.42 L491.41 120.24 L490.61 120.05 L489.81 119.86 L489.01 119.66 L488.22 119.45 L487.43 119.24 L486.63 119.03 L485.84 118.81 L485.05 118.58 L484.26 118.35 L483.48 118.11 L482.69 117.87 L481.91 117.62 L481.13 117.37 L480.34 117.11 L479.56 116.85 L478.79 116.57 L478.01 116.30 L477.24 116.01 L476.46 115.72 L475.70 115.42 L474.93 115.12 L474.17 114.80 L473.41 114.48 L472.65 114.15 L471.90 113.82 L471.15 113.47 L470.40 113.12 L469.66 112.75 L468.92 112.38 L468.18 112.00 L467.45 111.61 L466.73 111.22 L466.01 110.81 L465.30 110.39 L464.60 109.97 L463.90 109.53 L463.21 109.08 L462.53 108.62 L461.86 108.16 L461.20 107.68 L460.55 107.18 L459.91 106.68 L459.29 106.17 L458.68 105.64 L458.08 105.10 L457.49 104.55 L456.92 103.99 L456.36 103.41 L455.81 102.82 L455.29 102.21 L454.77 101.60 L454.27 100.96 L453.78 100.32 L453.30 99.67 L452.84 99.00 L452.38 98.32 L451.94 97.64 L451.51 96.94 L451.08 96.24 L450.67 95.53 L450.27 94.81 L449.87 94.09 L449.49 93.36 L449.11 92.63 L448.74 91.89 L448.38 91.15 L448.02 90.40 L447.67 89.66 L447.33 88.91 L447.00 88.16 L446.67 87.40 L446.35 86.65 L446.03 85.89 L445.72 85.13 L445.42 84.36 L445.13 83.60 L444.84 82.83 L444.55 82.06 L444.27 81.28 L444.00 80.51 L443.73 79.73 L443.47 78.95 L443.22 78.17 L442.97 77.38 L442.73 76.60 L442.49 75.81 L442.25 75.02 L442.02 74.23 L441.80 73.44 L441.58 72.64 L441.36 71.84 L441.15 71.05 L440.94 70.25 L440.74 69.45 L440.54 68.65 L440.34 67.84 L440.15 67.04 L439.96 66.23 L439.78 65.43 L439.60 64.62 L439.42 63.81 L439.25 63.00 L439.08 62.19 L438.91 61.38 L438.74 60.56 L438.58 59.75 L438.42 58.94 L438.26 58.12 L438.11 57.31 L437.96 56.49 L437.81 55.67 L437.66 54.86 L437.51 54.04 L437.37 53.22 L437.23 52.40 L437.09 51.58 L436.95 50.77 L436.81 49.95 L436.67 49.13 L436.53 48.31 L436.40 47.49 L436.26 46.67 L436.13 45.86 L435.99 45.04 L435.86 44.22 L435.72 43.40 L435.59 42.59 L435.46 41.77 L435.33 40.95 L435.20 40.14 L435.07 39.32 L434.94 38.50 L434.82 37.69 L434.69 36.87 L434.57 36.05 L434.44 35.24 L434.32 34.42 L434.20 33.60 L434.08 32.78 L433.96 31.97 L433.85 31.15 L433.73 30.33 L433.62 29.51 L433.51 28.69 L433.40 27.88 L433.29 27.06 L433.18 26.24 L433.08 25.42 L432.98 24.60 L432.87 23.78 L432.77 22.96 L432.68 22.14 L432.58 21.32 L432.48 20.49 L432.39 19.67 L432.30 18.85 L432.21 18.03 L432.12 17.20 L432.03 16.38 L431.95 15.55 L431.86 14.73 L431.78 13.90 L431.70 13.07 L431.63 12.25 L431.55 11.42 L431.48 10.59 L431.41 9.76 L431.34 8.93 Z" fill="#00ffff" clip-path="url(#c2)"/>
<rect x="430.1" y="0" width="249.5" height="1.7" fill="#999"/>
<path d="M430.6 0.6 V184.4 H679.1 V0.6" fill="none" stroke="#222" stroke-width="1.2"/>
<line x1="458.40" y1="184.4" x2="458.40" y2="187.20000000000002" stroke="#222" stroke-width="1.0"/>
<text transform="translate(458.40 202.30) scale(1.015 1)" font-size="15.5" text-anchor="middle">0.1</text>
<line x1="489.00" y1="184.4" x2="489.00" y2="187.20000000000002" stroke="#222" stroke-width="1.0"/>
<text transform="translate(489.00 202.30) scale(1.015 1)" font-size="15.5" text-anchor="middle">0.2</text>
<line x1="519.60" y1="184.4" x2="519.60" y2="187.20000000000002" stroke="#222" stroke-width="1.0"/>
<text transform="translate(519.60 202.30) scale(1.015 1)" font-size="15.5" text-anchor="middle">0.3</text>
<line x1="550.20" y1="184.4" x2="550.20" y2="187.20000000000002" stroke="#222" stroke-width="1.0"/>
<text transform="translate(550.20 202.30) scale(1.015 1)" font-size="15.5" text-anchor="middle">0.4</text>
<line x1="580.80" y1="184.4" x2="580.80" y2="187.20000000000002" stroke="#222" stroke-width="1.0"/>
<text transform="translate(580.80 202.30) scale(1.015 1)" font-size="15.5" text-anchor="middle">0.5</text>
<line x1="611.40" y1="184.4" x2="611.40" y2="187.20000000000002" stroke="#222" stroke-width="1.0"/>
<text transform="translate(611.40 202.30) scale(1.015 1)" font-size="15.5" text-anchor="middle">0.6</text>
<line x1="642.00" y1="184.4" x2="642.00" y2="187.20000000000002" stroke="#222" stroke-width="1.0"/>
<text transform="translate(642.00 202.30) scale(1.015 1)" font-size="15.5" text-anchor="middle">0.7</text>
<line x1="672.60" y1="184.4" x2="672.60" y2="187.20000000000002" stroke="#222" stroke-width="1.0"/>
<text transform="translate(672.60 202.30) scale(1.015 1)" font-size="15.5" text-anchor="middle">0.8</text>
<line x1="427.8" y1="13.50" x2="430.6" y2="13.50" stroke="#222" stroke-width="1.0"/>
<text transform="translate(425.60 19.20) scale(1.015 1)" font-size="15.5" text-anchor="end">0.5</text>
<line x1="427.8" y1="39.32" x2="430.6" y2="39.32" stroke="#222" stroke-width="1.0"/>
<text transform="translate(425.60 45.02) scale(1.015 1)" font-size="15.5" text-anchor="end">0.4</text>
<line x1="427.8" y1="65.14" x2="430.6" y2="65.14" stroke="#222" stroke-width="1.0"/>
<text transform="translate(425.60 70.84) scale(1.015 1)" font-size="15.5" text-anchor="end">0.3</text>
<line x1="427.8" y1="90.96" x2="430.6" y2="90.96" stroke="#222" stroke-width="1.0"/>
<text transform="translate(425.60 96.66) scale(1.015 1)" font-size="15.5" text-anchor="end">0.2</text>
<line x1="427.8" y1="116.78" x2="430.6" y2="116.78" stroke="#222" stroke-width="1.0"/>
<text transform="translate(425.60 122.48) scale(1.015 1)" font-size="15.5" text-anchor="end">0.1</text>
<line x1="427.8" y1="142.60" x2="430.6" y2="142.60" stroke="#222" stroke-width="1.0"/>
<text transform="translate(425.60 148.30) scale(1.015 1)" font-size="15.5" text-anchor="end">0.0</text>
<line x1="427.8" y1="168.42" x2="430.6" y2="168.42" stroke="#222" stroke-width="1.0"/>
<text transform="translate(425.60 174.12) scale(1.015 1)" font-size="15.5" text-anchor="end">−0.1</text>
<text transform="translate(554.50 222.70) scale(1.03 1)" font-size="15.5" text-anchor="middle"><tspan font-style="italic">q</tspan><tspan font-size="10.5" dy="-6.7">2</tspan><tspan dy="6.7"> [GeV</tspan><tspan font-size="10.5" dy="-6.7">2</tspan><tspan dy="6.7">]</tspan></text>
<text transform="translate(381.00 92.90) rotate(-90) scale(1.03 1)" font-size="15.5" text-anchor="middle"><tspan font-style="italic">A</tspan><tspan font-style="italic" font-size="10.85" dy="3">FB</tspan></text>
<rect x="613.5" y="6.4" width="60.0" height="38.35" rx="2" ry="2" fill="#fff" fill-opacity="0.8" stroke="#cccccc" stroke-width="1"/>
<rect x="617.75" y="11.5" width="24.5" height="9.25" fill="#008000"/>
<rect x="617.75" y="29" width="24.5" height="9" fill="#00ffff"/>
<text class="lg" transform="translate(651.40 20.55) scale(0.91 1)" font-size="12.7" text-anchor="start">SM</text>
<text class="lg" transform="translate(651.40 37.80) scale(0.91 1)" font-size="12.7" text-anchor="start">NP</text>
<clipPath id="c3"><rect x="67.6" y="273.8" width="243.9" height="185.0"/></clipPath>
<path d="M68.22 375.03 L68.25 374.08 L68.29 373.13 L68.34 372.18 L68.39 371.23 L68.44 370.29 L68.49 369.34 L68.55 368.40 L68.62 367.45 L68.68 366.51 L68.76 365.57 L68.83 364.64 L68.91 363.70 L69.00 362.76 L69.09 361.83 L69.18 360.89 L69.28 359.96 L69.39 359.03 L69.49 358.10 L69.61 357.17 L69.72 356.24 L69.85 355.32 L69.97 354.39 L70.11 353.47 L70.24 352.54 L70.38 351.62 L70.53 350.70 L70.68 349.78 L70.84 348.86 L71.00 347.94 L71.17 347.02 L71.34 346.10 L71.52 345.19 L71.71 344.27 L71.90 343.36 L72.09 342.44 L72.29 341.53 L72.50 340.62 L72.71 339.70 L72.93 338.79 L73.16 337.88 L73.39 336.97 L73.62 336.06 L73.86 335.15 L74.11 334.25 L74.37 333.34 L74.63 332.43 L74.89 331.53 L75.17 330.62 L75.44 329.71 L75.73 328.81 L76.02 327.90 L76.32 327.00 L76.63 326.10 L76.94 325.20 L77.27 324.31 L77.60 323.42 L77.94 322.53 L78.29 321.65 L78.65 320.77 L79.03 319.90 L79.41 319.04 L79.81 318.18 L80.22 317.33 L80.64 316.50 L81.07 315.67 L81.52 314.85 L81.99 314.04 L82.47 313.24 L82.96 312.45 L83.47 311.68 L84.00 310.91 L84.55 310.16 L85.11 309.43 L85.69 308.71 L86.29 308.00 L86.90 307.31 L87.54 306.64 L88.19 305.98 L88.86 305.34 L89.54 304.71 L90.24 304.10 L90.95 303.51 L91.67 302.94 L92.40 302.38 L93.14 301.84 L93.90 301.32 L94.66 300.82 L95.43 300.33 L96.22 299.86 L97.02 299.41 L97.82 298.97 L98.64 298.55 L99.46 298.14 L100.30 297.76 L101.14 297.38 L101.99 297.02 L102.85 296.67 L103.72 296.34 L104.59 296.02 L105.47 295.71 L106.36 295.41 L107.25 295.12 L108.14 294.85 L109.05 294.58 L109.95 294.33 L110.87 294.08 L111.78 293.85 L112.70 293.62 L113.63 293.40 L114.56 293.19 L115.49 292.98 L116.42 292.79 L117.35 292.60 L118.29 292.41 L119.23 292.23 L120.17 292.06 L121.11 291.89 L122.05 291.73 L122.99 291.57 L123.94 291.41 L124.88 291.26 L125.82 291.11 L126.76 290.97 L127.70 290.83 L128.64 290.69 L129.58 290.56 L130.52 290.43 L131.46 290.30 L132.40 290.17 L133.34 290.05 L134.28 289.93 L135.22 289.82 L136.16 289.71 L137.09 289.60 L138.03 289.49 L138.97 289.39 L139.91 289.28 L140.84 289.19 L141.78 289.09 L142.72 289.00 L143.66 288.91 L144.59 288.82 L145.53 288.73 L146.47 288.65 L147.40 288.57 L148.34 288.49 L149.28 288.42 L150.21 288.34 L151.15 288.27 L152.09 288.20 L153.02 288.14 L153.96 288.07 L154.90 288.01 L155.83 287.95 L156.77 287.89 L157.71 287.83 L158.64 287.78 L159.58 287.72 L160.52 287.67 L161.45 287.62 L162.39 287.57 L163.33 287.53 L164.26 287.48 L165.20 287.44 L166.14 287.40 L167.07 287.36 L168.01 287.32 L168.95 287.28 L169.89 287.24 L170.83 287.21 L171.76 287.17 L172.70 287.14 L173.64 287.11 L174.58 287.08 L175.52 287.05 L176.45 287.02 L177.39 287.00 L178.33 286.97 L179.27 286.95 L180.21 286.93 L181.15 286.91 L182.09 286.89 L183.03 286.87 L183.97 286.85 L184.91 286.84 L185.85 286.83 L186.78 286.81 L187.72 286.80 L188.66 286.80 L189.60 286.79 L190.54 286.78 L191.48 286.78 L192.42 286.77 L193.37 286.77 L194.31 286.77 L195.25 286.77 L196.19 286.78 L197.13 286.78 L198.07 286.79 L199.01 286.80 L199.95 286.81 L200.89 286.82 L201.83 286.83 L202.77 286.85 L203.71 286.86 L204.65 286.88 L205.60 286.90 L206.54 286.92 L207.48 286.94 L208.42 286.97 L209.36 287.00 L210.30 287.02 L211.24 287.05 L212.19 287.09 L213.13 287.12 L214.07 287.16 L215.01 287.19 L215.95 287.23 L216.89 287.28 L217.84 287.32 L218.78 287.37 L219.72 287.42 L220.66 287.47 L221.60 287.52 L222.54 287.57 L223.49 287.63 L224.43 287.69 L225.37 287.75 L226.31 287.81 L227.25 287.88 L228.19 287.94 L229.14 288.01 L230.08 288.08 L231.02 288.15 L231.96 288.23 L232.90 288.30 L233.84 288.38 L234.79 288.46 L235.73 288.55 L236.67 288.63 L237.61 288.72 L238.55 288.81 L239.49 288.90 L240.44 288.99 L241.38 289.09 L242.32 289.19 L243.26 289.29 L244.20 289.39 L245.14 289.49 L246.08 289.60 L247.03 289.71 L247.97 289.82 L248.91 289.93 L249.85 290.04 L250.79 290.16 L251.73 290.28 L252.67 290.41 L253.61 290.53 L254.55 290.66 L255.49 290.80 L256.43 290.94 L257.36 291.08 L258.30 291.23 L259.23 291.38 L260.16 291.54 L261.09 291.70 L262.01 291.88 L262.94 292.05 L263.86 292.24 L264.78 292.43 L265.69 292.63 L266.60 292.84 L267.51 293.06 L268.42 293.29 L269.32 293.53 L270.21 293.78 L271.10 294.04 L271.99 294.31 L272.88 294.59 L273.75 294.89 L274.63 295.20 L275.50 295.52 L276.36 295.85 L277.22 296.19 L278.07 296.55 L278.91 296.93 L279.75 297.31 L280.59 297.72 L281.41 298.14 L282.23 298.57 L283.05 299.02 L283.85 299.49 L284.65 299.97 L285.43 300.47 L286.20 300.99 L286.96 301.52 L287.71 302.07 L288.44 302.64 L289.15 303.22 L289.85 303.82 L290.52 304.44 L291.18 305.07 L291.82 305.72 L292.44 306.39 L293.04 307.07 L293.62 307.77 L294.18 308.49 L294.73 309.22 L295.26 309.96 L295.78 310.72 L296.28 311.49 L296.76 312.28 L297.23 313.08 L297.69 313.88 L298.13 314.70 L298.56 315.53 L298.97 316.37 L299.37 317.21 L299.76 318.07 L300.14 318.93 L300.50 319.80 L300.86 320.67 L301.20 321.55 L301.53 322.43 L301.86 323.32 L302.17 324.21 L302.48 325.11 L302.78 326.00 L303.07 326.90 L303.35 327.79 L303.63 328.69 L303.89 329.60 L304.15 330.50 L304.39 331.40 L304.63 332.31 L304.86 333.22 L305.08 334.13 L305.30 335.03 L305.51 335.95 L305.70 336.86 L305.89 337.77 L306.08 338.69 L306.25 339.60 L306.42 340.52 L306.58 341.44 L306.74 342.36 L306.89 343.28 L307.03 344.20 L307.16 345.13 L307.29 346.05 L307.42 346.98 L307.53 347.90 L307.65 348.83 L307.75 349.76 L307.86 350.69 L307.95 351.62 L308.05 352.55 L308.14 353.48 L308.22 354.42 L308.30 355.35 L308.38 356.28 L308.45 357.22 L308.52 358.16 L308.59 359.09 L308.65 360.03 L308.71 360.97 L308.77 361.91 L308.83 362.85 L308.88 363.79 L308.93 364.73 L308.98 365.67 L309.03 366.61 L309.08 367.55 L309.12 368.49 L309.17 369.43 L309.22 370.38 L309.26 371.32 L309.31 372.26 L309.36 373.20 L309.40 374.15 L309.45 375.09 L309.50 376.04 L309.54 376.98 L309.59 377.92 L309.64 378.87 L309.69 379.81 L309.75 380.75 L309.80 381.70 L309.86 382.64 L309.92 383.58 L309.98 384.53 L310.05 385.47 L310.11 386.41 L310.18 387.35 L310.26 388.29 L310.34 389.24 L310.42 390.18 L310.50 391.12 L310.59 392.06 L311.79 391.95 L311.71 391.01 L311.64 390.08 L311.57 389.14 L311.50 388.20 L311.44 387.26 L311.38 386.33 L311.33 385.39 L311.27 384.45 L311.22 383.51 L311.18 382.57 L311.13 381.63 L311.09 380.68 L311.05 379.74 L311.01 378.80 L310.97 377.86 L310.93 376.92 L310.89 375.97 L310.86 375.03 L310.82 374.09 L310.79 373.14 L310.76 372.20 L310.72 371.26 L310.69 370.31 L310.65 369.37 L310.62 368.43 L310.58 367.48 L310.54 366.54 L310.50 365.59 L310.46 364.65 L310.41 363.71 L310.37 362.76 L310.32 361.82 L310.27 360.88 L310.22 359.93 L310.16 358.99 L310.10 358.05 L310.04 357.11 L309.98 356.16 L309.91 355.22 L309.84 354.28 L309.76 353.34 L309.68 352.40 L309.59 351.46 L309.50 350.52 L309.41 349.58 L309.31 348.64 L309.20 347.70 L309.09 346.76 L308.97 345.83 L308.85 344.89 L308.72 343.95 L308.59 343.02 L308.44 342.09 L308.29 341.15 L308.14 340.22 L307.97 339.29 L307.80 338.35 L307.62 337.42 L307.44 336.49 L307.24 335.57 L307.04 334.64 L306.83 333.71 L306.61 332.79 L306.37 331.86 L306.13 330.94 L305.88 330.02 L305.62 329.10 L305.35 328.18 L305.07 327.26 L304.79 326.35 L304.49 325.44 L304.18 324.53 L303.87 323.62 L303.54 322.71 L303.21 321.81 L302.86 320.91 L302.50 320.01 L302.13 319.12 L301.75 318.23 L301.35 317.35 L300.95 316.47 L300.53 315.61 L300.09 314.75 L299.65 313.89 L299.18 313.05 L298.71 312.22 L298.21 311.40 L297.70 310.59 L297.17 309.79 L296.63 309.00 L296.07 308.23 L295.49 307.47 L294.89 306.73 L294.27 306.00 L293.63 305.29 L292.98 304.60 L292.30 303.92 L291.60 303.27 L290.88 302.63 L290.14 302.02 L289.39 301.42 L288.61 300.85 L287.83 300.29 L287.03 299.75 L286.22 299.23 L285.40 298.73 L284.57 298.25 L283.73 297.78 L282.89 297.33 L282.04 296.90 L281.18 296.48 L280.32 296.08 L279.46 295.70 L278.58 295.33 L277.71 294.98 L276.83 294.63 L275.94 294.31 L275.05 294.00 L274.15 293.70 L273.25 293.41 L272.35 293.13 L271.44 292.87 L270.53 292.62 L269.62 292.38 L268.70 292.15 L267.79 291.92 L266.86 291.71 L265.94 291.51 L265.01 291.31 L264.08 291.13 L263.15 290.95 L262.21 290.78 L261.28 290.62 L260.34 290.46 L259.40 290.31 L258.46 290.17 L257.52 290.03 L256.58 289.89 L255.63 289.76 L254.69 289.64 L253.75 289.52 L252.80 289.40 L251.86 289.29 L250.91 289.17 L249.97 289.06 L249.02 288.95 L248.08 288.84 L247.14 288.74 L246.19 288.63 L245.25 288.53 L244.30 288.43 L243.36 288.34 L242.42 288.24 L241.47 288.15 L240.53 288.06 L239.58 287.97 L238.64 287.89 L237.69 287.80 L236.75 287.72 L235.81 287.64 L234.86 287.56 L233.92 287.49 L232.97 287.42 L232.03 287.35 L231.09 287.28 L230.14 287.21 L229.20 287.14 L228.25 287.08 L227.31 287.02 L226.37 286.96 L225.42 286.90 L224.48 286.85 L223.53 286.79 L222.59 286.74 L221.65 286.69 L220.70 286.64 L219.76 286.60 L218.82 286.55 L217.87 286.51 L216.93 286.47 L215.99 286.43 L215.04 286.39 L214.10 286.36 L213.16 286.32 L212.21 286.29 L211.27 286.25 L210.33 286.22 L209.38 286.20 L208.44 286.17 L207.50 286.14 L206.56 286.12 L205.61 286.10 L204.67 286.08 L203.73 286.06 L202.79 286.05 L201.84 286.03 L200.90 286.02 L199.96 286.01 L199.02 286.00 L198.07 285.99 L197.13 285.98 L196.19 285.98 L195.25 285.97 L194.31 285.97 L193.36 285.97 L192.42 285.97 L191.48 285.98 L190.54 285.98 L189.60 285.99 L188.66 286.00 L187.72 286.00 L186.78 286.01 L185.83 286.03 L184.89 286.04 L183.95 286.05 L183.01 286.07 L182.07 286.09 L181.13 286.11 L180.19 286.13 L179.25 286.15 L178.31 286.17 L177.37 286.20 L176.43 286.22 L175.49 286.25 L174.55 286.28 L173.61 286.31 L172.67 286.34 L171.73 286.37 L170.80 286.41 L169.86 286.44 L168.92 286.48 L167.98 286.52 L167.04 286.56 L166.10 286.60 L165.16 286.64 L164.23 286.68 L163.29 286.73 L162.35 286.77 L161.41 286.82 L160.47 286.87 L159.54 286.92 L158.60 286.98 L157.66 287.03 L156.72 287.09 L155.78 287.15 L154.84 287.21 L153.91 287.27 L152.97 287.34 L152.03 287.40 L151.09 287.47 L150.15 287.55 L149.21 287.62 L148.28 287.69 L147.34 287.77 L146.40 287.85 L145.46 287.94 L144.52 288.02 L143.58 288.11 L142.64 288.20 L141.70 288.29 L140.76 288.39 L139.82 288.49 L138.88 288.59 L137.94 288.69 L137.00 288.80 L136.06 288.91 L135.12 289.02 L134.18 289.14 L133.24 289.26 L132.30 289.38 L131.35 289.51 L130.41 289.63 L129.47 289.76 L128.53 289.90 L127.58 290.04 L126.64 290.18 L125.70 290.32 L124.75 290.47 L123.81 290.62 L122.86 290.78 L121.92 290.93 L120.97 291.10 L120.03 291.26 L119.08 291.43 L118.14 291.61 L117.20 291.79 L116.25 291.98 L115.31 292.17 L114.38 292.37 L113.44 292.58 L112.51 292.80 L111.58 293.03 L110.65 293.26 L109.73 293.51 L108.81 293.76 L107.90 294.02 L106.99 294.30 L106.09 294.59 L105.19 294.89 L104.30 295.20 L103.41 295.52 L102.53 295.85 L101.66 296.20 L100.79 296.57 L99.93 296.94 L99.08 297.34 L98.24 297.74 L97.40 298.17 L96.58 298.60 L95.76 299.06 L94.95 299.53 L94.15 300.01 L93.36 300.52 L92.58 301.04 L91.81 301.58 L91.06 302.15 L90.32 302.74 L89.59 303.34 L88.87 303.97 L88.17 304.61 L87.49 305.27 L86.82 305.94 L86.17 306.64 L85.53 307.35 L84.92 308.07 L84.32 308.81 L83.74 309.57 L83.19 310.33 L82.64 311.12 L82.12 311.91 L81.62 312.71 L81.13 313.53 L80.65 314.36 L80.19 315.19 L79.75 316.04 L79.32 316.89 L78.90 317.75 L78.50 318.62 L78.11 319.50 L77.73 320.38 L77.36 321.27 L77.01 322.16 L76.66 323.06 L76.33 323.96 L76.00 324.87 L75.68 325.77 L75.37 326.68 L75.07 327.59 L74.78 328.50 L74.49 329.42 L74.21 330.33 L73.93 331.24 L73.67 332.15 L73.40 333.07 L73.15 333.98 L72.90 334.89 L72.65 335.81 L72.42 336.72 L72.19 337.64 L71.96 338.56 L71.74 339.47 L71.53 340.39 L71.32 341.31 L71.12 342.23 L70.92 343.15 L70.73 344.07 L70.54 344.99 L70.36 345.91 L70.19 346.84 L70.02 347.76 L69.86 348.69 L69.70 349.61 L69.54 350.54 L69.40 351.46 L69.25 352.39 L69.12 353.32 L68.98 354.25 L68.85 355.18 L68.73 356.11 L68.61 357.05 L68.50 357.98 L68.39 358.92 L68.29 359.85 L68.19 360.79 L68.09 361.73 L68.00 362.67 L67.92 363.61 L67.84 364.55 L67.76 365.49 L67.69 366.44 L67.62 367.38 L67.56 368.33 L67.49 369.28 L67.44 370.23 L67.39 371.18 L67.34 372.13 L67.29 373.09 L67.25 374.04 L67.22 375.00 Z" fill="#008000" clip-path="url(#c3)"/>
<path d="M68.29 374.43 L68.33 373.53 L68.36 372.63 L68.40 371.73 L68.45 370.83 L68.49 369.94 L68.55 369.04 L68.60 368.15 L68.66 367.26 L68.72 366.36 L68.79 365.47 L68.86 364.58 L68.93 363.69 L69.01 362.81 L69.09 361.92 L69.18 361.03 L69.27 360.15 L69.36 359.27 L69.46 358.38 L69.56 357.50 L69.67 356.62 L69.78 355.74 L69.90 354.87 L70.02 353.99 L70.14 353.11 L70.27 352.24 L70.40 351.36 L70.54 350.49 L70.68 349.61 L70.83 348.74 L70.98 347.87 L71.13 347.00 L71.30 346.13 L71.46 345.26 L71.63 344.39 L71.80 343.52 L71.98 342.66 L72.17 341.79 L72.36 340.93 L72.55 340.06 L72.75 339.20 L72.95 338.33 L73.16 337.47 L73.38 336.61 L73.60 335.74 L73.82 334.88 L74.05 334.02 L74.28 333.16 L74.52 332.30 L74.77 331.44 L75.02 330.58 L75.27 329.72 L75.54 328.87 L75.80 328.01 L76.07 327.15 L76.35 326.29 L76.64 325.44 L76.93 324.59 L77.22 323.74 L77.53 322.89 L77.84 322.05 L78.17 321.21 L78.50 320.38 L78.84 319.55 L79.19 318.73 L79.55 317.91 L79.92 317.10 L80.30 316.30 L80.69 315.50 L81.10 314.71 L81.52 313.93 L81.95 313.16 L82.39 312.40 L82.85 311.65 L83.32 310.91 L83.81 310.18 L84.31 309.46 L84.83 308.75 L85.36 308.05 L85.91 307.37 L86.47 306.70 L87.06 306.04 L87.65 305.40 L88.27 304.77 L88.89 304.15 L89.53 303.55 L90.18 302.96 L90.85 302.39 L91.52 301.83 L92.21 301.29 L92.91 300.77 L93.61 300.26 L94.33 299.77 L95.05 299.30 L95.79 298.83 L96.53 298.39 L97.28 297.95 L98.04 297.54 L98.81 297.13 L99.59 296.74 L100.37 296.36 L101.17 295.99 L101.96 295.64 L102.77 295.29 L103.58 294.96 L104.40 294.64 L105.22 294.33 L106.06 294.03 L106.89 293.74 L107.73 293.46 L108.58 293.19 L109.43 292.93 L110.28 292.67 L111.14 292.43 L112.01 292.19 L112.87 291.96 L113.74 291.74 L114.62 291.53 L115.49 291.32 L116.37 291.12 L117.25 290.92 L118.13 290.73 L119.02 290.55 L119.90 290.37 L120.79 290.19 L121.68 290.02 L122.56 289.85 L123.45 289.69 L124.34 289.52 L125.23 289.36 L126.11 289.21 L127.00 289.06 L127.89 288.91 L128.78 288.76 L129.66 288.61 L130.55 288.47 L131.44 288.33 L132.32 288.20 L133.21 288.07 L134.10 287.93 L134.98 287.81 L135.87 287.68 L136.76 287.56 L137.64 287.44 L138.53 287.32 L139.41 287.20 L140.30 287.09 L141.18 286.98 L142.07 286.87 L142.96 286.76 L143.84 286.66 L144.73 286.55 L145.61 286.45 L146.50 286.36 L147.38 286.26 L148.27 286.17 L149.16 286.08 L150.04 285.99 L150.93 285.90 L151.81 285.81 L152.70 285.73 L153.59 285.65 L154.47 285.57 L155.36 285.49 L156.24 285.42 L157.13 285.34 L158.02 285.27 L158.90 285.20 L159.79 285.13 L160.67 285.07 L161.56 285.00 L162.45 284.94 L163.33 284.88 L164.22 284.81 L165.11 284.76 L166.00 284.70 L166.88 284.64 L167.77 284.59 L168.66 284.53 L169.54 284.48 L170.43 284.43 L171.32 284.38 L172.21 284.33 L173.10 284.29 L173.98 284.24 L174.87 284.19 L175.76 284.15 L176.65 284.11 L177.54 284.07 L178.43 284.03 L179.32 283.99 L180.21 283.95 L181.09 283.91 L181.98 283.88 L182.87 283.84 L183.76 283.81 L184.65 283.78 L185.54 283.75 L186.43 283.72 L187.32 283.69 L188.21 283.66 L189.10 283.64 L189.99 283.61 L190.88 283.59 L191.77 283.56 L192.66 283.54 L193.56 283.52 L194.45 283.50 L195.34 283.48 L196.23 283.46 L197.12 283.44 L198.01 283.43 L198.90 283.41 L199.79 283.40 L200.69 283.38 L201.58 283.37 L202.47 283.36 L203.36 283.35 L204.25 283.34 L205.15 283.33 L206.04 283.32 L206.93 283.31 L207.82 283.31 L208.72 283.30 L209.61 283.30 L210.50 283.29 L211.39 283.29 L212.29 283.29 L213.18 283.29 L214.07 283.29 L214.97 283.29 L215.86 283.29 L216.75 283.29 L217.65 283.29 L218.54 283.30 L219.43 283.30 L220.33 283.30 L221.22 283.31 L222.12 283.32 L223.01 283.32 L223.90 283.33 L224.80 283.34 L225.69 283.35 L226.59 283.36 L227.48 283.37 L228.38 283.38 L229.27 283.39 L230.16 283.41 L231.06 283.42 L231.95 283.43 L232.85 283.45 L233.74 283.46 L234.64 283.48 L235.53 283.49 L236.43 283.51 L237.32 283.53 L238.22 283.54 L239.12 283.56 L240.01 283.58 L240.91 283.60 L241.80 283.62 L242.70 283.64 L243.59 283.66 L244.49 283.68 L245.39 283.71 L246.28 283.73 L247.18 283.75 L248.07 283.78 L248.97 283.80 L249.87 283.82 L250.76 283.85 L251.66 283.87 L252.55 283.90 L253.45 283.92 L254.35 283.95 L255.24 283.98 L256.14 284.01 L257.03 284.04 L257.92 284.08 L258.82 284.11 L259.71 284.15 L260.60 284.20 L261.49 284.25 L262.38 284.30 L263.27 284.36 L264.16 284.42 L265.05 284.49 L265.94 284.56 L266.82 284.64 L267.71 284.72 L268.59 284.82 L269.47 284.92 L270.35 285.02 L271.23 285.14 L272.11 285.27 L272.98 285.40 L273.86 285.54 L274.73 285.69 L275.60 285.85 L276.47 286.02 L277.34 286.20 L278.21 286.39 L279.07 286.59 L279.93 286.80 L280.79 287.03 L281.65 287.26 L282.50 287.50 L283.36 287.76 L284.20 288.03 L285.05 288.32 L285.88 288.62 L286.71 288.94 L287.53 289.27 L288.33 289.62 L289.12 289.99 L289.90 290.38 L290.67 290.79 L291.41 291.22 L292.14 291.68 L292.85 292.16 L293.55 292.66 L294.22 293.18 L294.88 293.72 L295.52 294.29 L296.15 294.87 L296.75 295.47 L297.34 296.09 L297.92 296.72 L298.47 297.38 L299.00 298.05 L299.52 298.73 L300.02 299.43 L300.49 300.15 L300.95 300.89 L301.38 301.63 L301.80 302.39 L302.19 303.17 L302.56 303.96 L302.92 304.76 L303.25 305.57 L303.57 306.40 L303.87 307.23 L304.15 308.07 L304.42 308.93 L304.68 309.78 L304.92 310.65 L305.16 311.52 L305.38 312.40 L305.59 313.28 L305.79 314.16 L305.99 315.04 L306.18 315.93 L306.37 316.81 L306.54 317.69 L306.72 318.58 L306.88 319.46 L307.04 320.34 L307.20 321.22 L307.35 322.10 L307.49 322.99 L307.63 323.87 L307.77 324.75 L307.90 325.63 L308.03 326.51 L308.15 327.39 L308.26 328.27 L308.38 329.15 L308.49 330.03 L308.60 330.91 L308.70 331.79 L308.80 332.67 L308.90 333.55 L308.99 334.43 L309.08 335.31 L309.17 336.19 L309.25 337.08 L309.33 337.96 L309.40 338.84 L309.48 339.72 L309.55 340.61 L309.62 341.49 L309.69 342.37 L309.75 343.26 L309.81 344.14 L309.87 345.03 L309.93 345.92 L309.99 346.80 L310.04 347.69 L310.09 348.58 L310.15 349.47 L310.20 350.36 L310.24 351.25 L310.29 352.15 L310.34 353.04 L310.39 353.93 L310.43 354.83 L310.47 355.73 L310.52 356.62 L310.56 357.52 L310.61 358.42 L311.80 358.37 L311.77 357.47 L311.74 356.57 L311.70 355.67 L311.67 354.77 L311.63 353.88 L311.60 352.98 L311.56 352.09 L311.52 351.19 L311.48 350.30 L311.44 349.40 L311.40 348.51 L311.36 347.62 L311.31 346.73 L311.26 345.84 L311.22 344.95 L311.16 344.06 L311.11 343.17 L311.06 342.28 L311.00 341.39 L310.94 340.50 L310.88 339.61 L310.81 338.73 L310.74 337.84 L310.67 336.95 L310.59 336.06 L310.51 335.18 L310.43 334.29 L310.35 333.40 L310.26 332.51 L310.16 331.63 L310.07 330.74 L309.96 329.85 L309.86 328.96 L309.75 328.08 L309.63 327.19 L309.51 326.30 L309.38 325.41 L309.25 324.52 L309.12 323.64 L308.98 322.75 L308.83 321.86 L308.68 320.97 L308.52 320.08 L308.36 319.18 L308.19 318.29 L308.01 317.40 L307.84 316.51 L307.65 315.62 L307.46 314.72 L307.26 313.83 L307.05 312.93 L306.83 312.04 L306.61 311.14 L306.37 310.25 L306.12 309.37 L305.86 308.48 L305.58 307.61 L305.28 306.74 L304.97 305.87 L304.64 305.02 L304.30 304.17 L303.93 303.33 L303.54 302.51 L303.12 301.70 L302.69 300.90 L302.23 300.11 L301.75 299.34 L301.25 298.59 L300.73 297.85 L300.19 297.13 L299.63 296.42 L299.04 295.74 L298.44 295.07 L297.82 294.42 L297.17 293.79 L296.50 293.19 L295.82 292.60 L295.12 292.04 L294.40 291.50 L293.66 290.98 L292.90 290.49 L292.13 290.02 L291.34 289.57 L290.53 289.15 L289.72 288.75 L288.89 288.37 L288.05 288.02 L287.20 287.68 L286.34 287.36 L285.48 287.06 L284.61 286.78 L283.74 286.51 L282.87 286.26 L281.99 286.01 L281.11 285.78 L280.24 285.56 L279.36 285.35 L278.48 285.16 L277.60 284.97 L276.71 284.80 L275.83 284.63 L274.94 284.47 L274.06 284.33 L273.17 284.19 L272.28 284.06 L271.39 283.94 L270.50 283.83 L269.61 283.72 L268.72 283.62 L267.83 283.52 L266.93 283.44 L266.04 283.35 L265.15 283.28 L264.25 283.21 L263.36 283.14 L262.46 283.08 L261.56 283.03 L260.67 282.98 L259.77 282.93 L258.87 282.88 L257.98 282.84 L257.08 282.81 L256.18 282.77 L255.28 282.74 L254.39 282.71 L253.49 282.68 L252.59 282.65 L251.69 282.62 L250.80 282.60 L249.90 282.57 L249.00 282.55 L248.11 282.53 L247.21 282.50 L246.31 282.48 L245.42 282.46 L244.52 282.44 L243.62 282.41 L242.73 282.39 L241.83 282.37 L240.93 282.35 L240.04 282.33 L239.14 282.31 L238.25 282.30 L237.35 282.28 L236.45 282.26 L235.56 282.24 L234.66 282.23 L233.77 282.21 L232.87 282.20 L231.97 282.18 L231.08 282.17 L230.18 282.16 L229.29 282.14 L228.39 282.13 L227.50 282.12 L226.60 282.11 L225.71 282.10 L224.81 282.09 L223.91 282.08 L223.02 282.07 L222.12 282.07 L221.23 282.06 L220.33 282.05 L219.44 282.05 L218.55 282.05 L217.65 282.04 L216.76 282.04 L215.86 282.04 L214.97 282.04 L214.07 282.04 L213.18 282.04 L212.28 282.04 L211.39 282.04 L210.50 282.04 L209.60 282.05 L208.71 282.05 L207.81 282.06 L206.92 282.06 L206.03 282.07 L205.13 282.08 L204.24 282.09 L203.35 282.10 L202.45 282.11 L201.56 282.12 L200.67 282.13 L199.77 282.15 L198.88 282.16 L197.99 282.18 L197.10 282.19 L196.20 282.21 L195.31 282.23 L194.42 282.25 L193.53 282.27 L192.63 282.29 L191.74 282.31 L190.85 282.34 L189.96 282.36 L189.07 282.39 L188.17 282.41 L187.28 282.44 L186.39 282.47 L185.50 282.50 L184.61 282.53 L183.72 282.56 L182.83 282.60 L181.94 282.63 L181.04 282.67 L180.15 282.70 L179.26 282.74 L178.37 282.78 L177.48 282.82 L176.59 282.86 L175.70 282.90 L174.81 282.95 L173.92 282.99 L173.03 283.04 L172.14 283.08 L171.25 283.13 L170.36 283.18 L169.47 283.23 L168.58 283.29 L167.69 283.34 L166.80 283.39 L165.92 283.45 L165.03 283.51 L164.14 283.57 L163.25 283.63 L162.36 283.69 L161.47 283.75 L160.58 283.82 L159.69 283.89 L158.80 283.96 L157.92 284.03 L157.03 284.10 L156.14 284.17 L155.25 284.25 L154.36 284.33 L153.47 284.40 L152.58 284.49 L151.70 284.57 L150.81 284.65 L149.92 284.74 L149.03 284.83 L148.14 284.92 L147.25 285.02 L146.36 285.11 L145.47 285.21 L144.59 285.31 L143.70 285.41 L142.81 285.52 L141.92 285.63 L141.03 285.74 L140.14 285.85 L139.25 285.96 L138.36 286.08 L137.47 286.20 L136.58 286.32 L135.69 286.44 L134.80 286.57 L133.91 286.70 L133.03 286.84 L132.14 286.98 L131.25 287.12 L130.36 287.26 L129.47 287.40 L128.58 287.55 L127.69 287.70 L126.79 287.86 L125.90 288.01 L125.01 288.17 L124.12 288.34 L123.23 288.50 L122.34 288.67 L121.45 288.85 L120.56 289.02 L119.67 289.20 L118.78 289.39 L117.89 289.58 L117.00 289.77 L116.11 289.98 L115.22 290.18 L114.34 290.40 L113.46 290.61 L112.58 290.84 L111.70 291.08 L110.83 291.32 L109.96 291.57 L109.10 291.82 L108.23 292.09 L107.37 292.37 L106.52 292.65 L105.67 292.94 L104.83 293.25 L103.99 293.57 L103.15 293.89 L102.33 294.23 L101.51 294.58 L100.69 294.94 L99.88 295.32 L99.08 295.71 L98.29 296.11 L97.50 296.52 L96.72 296.95 L95.95 297.40 L95.19 297.85 L94.43 298.33 L93.69 298.82 L92.95 299.32 L92.23 299.84 L91.51 300.38 L90.80 300.94 L90.11 301.51 L89.42 302.10 L88.75 302.70 L88.09 303.32 L87.45 303.95 L86.82 304.60 L86.20 305.27 L85.60 305.95 L85.02 306.64 L84.45 307.34 L83.91 308.06 L83.37 308.79 L82.86 309.53 L82.36 310.28 L81.87 311.04 L81.40 311.81 L80.95 312.59 L80.51 313.38 L80.08 314.18 L79.67 314.98 L79.27 315.79 L78.88 316.61 L78.50 317.44 L78.13 318.27 L77.78 319.11 L77.43 319.95 L77.09 320.79 L76.77 321.64 L76.45 322.50 L76.14 323.35 L75.84 324.21 L75.55 325.07 L75.26 325.94 L74.98 326.80 L74.70 327.66 L74.44 328.53 L74.17 329.39 L73.92 330.26 L73.66 331.12 L73.42 331.99 L73.18 332.86 L72.94 333.72 L72.71 334.59 L72.48 335.46 L72.26 336.33 L72.05 337.20 L71.84 338.06 L71.63 338.93 L71.43 339.81 L71.23 340.68 L71.04 341.55 L70.86 342.42 L70.68 343.29 L70.50 344.17 L70.33 345.04 L70.16 345.92 L70.00 346.79 L69.85 347.67 L69.69 348.55 L69.55 349.43 L69.40 350.31 L69.27 351.19 L69.13 352.07 L69.00 352.95 L68.88 353.83 L68.76 354.71 L68.64 355.60 L68.53 356.48 L68.42 357.37 L68.32 358.25 L68.22 359.14 L68.12 360.03 L68.03 360.92 L67.95 361.81 L67.86 362.70 L67.79 363.60 L67.71 364.49 L67.64 365.38 L67.57 366.28 L67.51 367.18 L67.45 368.08 L67.40 368.97 L67.35 369.88 L67.30 370.78 L67.25 371.68 L67.21 372.58 L67.18 373.49 L67.15 374.40 Z" fill="#00ffff" clip-path="url(#c3)"/>
<rect x="67.6" y="273.8" width="243.9" height="185.0" fill="none" stroke="#222" stroke-width="1.2"/>
<line x1="94.50" y1="458.8" x2="94.50" y2="461.6" stroke="#222" stroke-width="1.0"/>
<text transform="translate(94.50 476.00) scale(1.015 1)" font-size="15.5" text-anchor="middle">0.1</text>
<line x1="124.63" y1="458.8" x2="124.63" y2="461.6" stroke="#222" stroke-width="1.0"/>
<text transform="translate(124.63 476.00) scale(1.015 1)" font-size="15.5" text-anchor="middle">0.2</text>
<line x1="154.76" y1="458.8" x2="154.76" y2="461.6" stroke="#222" stroke-width="1.0"/>
<text transform="translate(154.76 476.00) scale(1.015 1)" font-size="15.5" text-anchor="middle">0.3</text>
<line x1="184.89" y1="458.8" x2="184.89" y2="461.6" stroke="#222" stroke-width="1.0"/>
<text transform="translate(184.89 476.00) scale(1.015 1)" font-size="15.5" text-anchor="middle">0.4</text>
<line x1="215.02" y1="458.8" x2="215.02" y2="461.6" stroke="#222" stroke-width="1.0"/>
<text transform="translate(215.02 476.00) scale(1.015 1)" font-size="15.5" text-anchor="middle">0.5</text>
<line x1="245.15" y1="458.8" x2="245.15" y2="461.6" stroke="#222" stroke-width="1.0"/>
<text transform="translate(245.15 476.00) scale(1.015 1)" font-size="15.5" text-anchor="middle">0.6</text>
<line x1="275.28" y1="458.8" x2="275.28" y2="461.6" stroke="#222" stroke-width="1.0"/>
<text transform="translate(275.28 476.00) scale(1.015 1)" font-size="15.5" text-anchor="middle">0.7</text>
<line x1="305.41" y1="458.8" x2="305.41" y2="461.6" stroke="#222" stroke-width="1.0"/>
<text transform="translate(305.41 476.00) scale(1.015 1)" font-size="15.5" text-anchor="middle">0.8</text>
<line x1="64.8" y1="274.00" x2="67.6" y2="274.00" stroke="#222" stroke-width="1.0"/>
<text transform="translate(62.00 280.20) scale(1.015 1)" font-size="15.5" text-anchor="end">1.0</text>
<line x1="64.8" y1="310.30" x2="67.6" y2="310.30" stroke="#222" stroke-width="1.0"/>
<text transform="translate(62.00 316.50) scale(1.015 1)" font-size="15.5" text-anchor="end">0.5</text>
<line x1="64.8" y1="346.60" x2="67.6" y2="346.60" stroke="#222" stroke-width="1.0"/>
<text transform="translate(62.00 352.80) scale(1.015 1)" font-size="15.5" text-anchor="end">0.0</text>
<line x1="64.8" y1="382.90" x2="67.6" y2="382.90" stroke="#222" stroke-width="1.0"/>
<text transform="translate(62.00 389.10) scale(1.015 1)" font-size="15.5" text-anchor="end">−0.5</text>
<line x1="64.8" y1="419.20" x2="67.6" y2="419.20" stroke="#222" stroke-width="1.0"/>
<text transform="translate(62.00 425.40) scale(1.015 1)" font-size="15.5" text-anchor="end">−1.0</text>
<line x1="64.8" y1="455.50" x2="67.6" y2="455.50" stroke="#222" stroke-width="1.0"/>
<text transform="translate(62.00 461.70) scale(1.015 1)" font-size="15.5" text-anchor="end">−1.5</text>
<text transform="translate(189.20 496.70) scale(1.03 1)" font-size="15.5" text-anchor="middle"><tspan font-style="italic">q</tspan><tspan font-size="10.5" dy="-6.7">2</tspan><tspan dy="6.7"> [GeV</tspan><tspan font-size="10.5" dy="-6.7">2</tspan><tspan dy="6.7">]</tspan></text>
<text transform="translate(14.00 367.10) rotate(-90) scale(1.03 1)" font-size="15.5" text-anchor="middle"><tspan font-style="italic">A</tspan><tspan font-style="italic" font-size="10.85" dy="3.3">λ</tspan><tspan font-style="italic" font-size="7.6" dy="1.2">μ</tspan><tspan dy="-4.5">(</tspan><tspan font-style="italic">q</tspan><tspan font-size="10.5" dy="-6.7">2</tspan><tspan dy="6.7">)</tspan></text>
<rect x="245.75" y="415" width="59.85000000000002" height="38.10000000000002" rx="2" ry="2" fill="#fff" fill-opacity="0.8" stroke="#cccccc" stroke-width="1"/>
<rect x="250" y="420.25" width="24.5" height="9.0" fill="#008000"/>
<rect x="250" y="437.5" width="24.5" height="9.0" fill="#00ffff"/>
<text class="lg" transform="translate(283.80 429.05) scale(0.91 1)" font-size="12.7" text-anchor="start">SM</text>
<text class="lg" transform="translate(283.80 446.30) scale(0.91 1)" font-size="12.7" text-anchor="start">NP</text>
<clipPath id="c4"><rect x="444.5" y="273.8" width="234.60000000000002" height="181.09999999999997"/></clipPath>
<path d="M443.72 290.92 L443.77 292.01 L443.82 293.11 L443.87 294.21 L443.92 295.30 L443.97 296.40 L444.02 297.50 L444.07 298.60 L444.12 299.70 L444.16 300.80 L444.21 301.90 L444.27 303.00 L444.32 304.10 L444.37 305.20 L444.42 306.30 L444.47 307.41 L444.52 308.51 L444.58 309.61 L444.63 310.71 L444.69 311.81 L444.75 312.92 L444.81 314.02 L444.87 315.12 L444.93 316.22 L444.99 317.33 L445.05 318.43 L445.12 319.53 L445.19 320.63 L445.25 321.74 L445.32 322.84 L445.39 323.94 L445.46 325.04 L445.54 326.14 L445.62 327.25 L445.70 328.35 L445.78 329.45 L445.86 330.55 L445.95 331.65 L446.04 332.75 L446.13 333.85 L446.23 334.95 L446.33 336.05 L446.43 337.15 L446.53 338.25 L446.64 339.34 L446.75 340.44 L446.86 341.54 L446.98 342.64 L447.10 343.73 L447.23 344.83 L447.35 345.92 L447.48 347.02 L447.61 348.11 L447.74 349.21 L447.88 350.30 L448.03 351.39 L448.17 352.48 L448.33 353.57 L448.48 354.66 L448.64 355.75 L448.81 356.84 L448.98 357.93 L449.15 359.02 L449.33 360.10 L449.52 361.19 L449.71 362.27 L449.90 363.35 L450.10 364.44 L450.31 365.52 L450.52 366.60 L450.73 367.68 L450.95 368.76 L451.18 369.83 L451.42 370.91 L451.65 371.98 L451.90 373.06 L452.15 374.13 L452.41 375.20 L452.67 376.27 L452.94 377.34 L453.21 378.41 L453.49 379.48 L453.78 380.54 L454.08 381.61 L454.38 382.67 L454.69 383.73 L455.00 384.79 L455.33 385.85 L455.66 386.90 L455.99 387.96 L456.33 389.01 L456.68 390.07 L457.04 391.12 L457.41 392.17 L457.78 393.21 L458.16 394.26 L458.54 395.31 L458.94 396.35 L459.34 397.39 L459.75 398.43 L460.17 399.47 L460.60 400.51 L461.03 401.54 L461.48 402.57 L461.94 403.59 L462.41 404.61 L462.89 405.63 L463.38 406.64 L463.88 407.64 L464.40 408.63 L464.94 409.61 L465.48 410.59 L466.05 411.55 L466.63 412.51 L467.22 413.45 L467.83 414.38 L468.46 415.30 L469.11 416.20 L469.79 417.09 L470.48 417.96 L471.19 418.81 L471.92 419.65 L472.68 420.47 L473.45 421.27 L474.24 422.06 L475.05 422.82 L475.87 423.57 L476.72 424.30 L477.58 425.01 L478.46 425.71 L479.35 426.38 L480.26 427.04 L481.18 427.68 L482.12 428.30 L483.06 428.91 L484.02 429.50 L484.99 430.08 L485.96 430.64 L486.95 431.19 L487.94 431.73 L488.93 432.26 L489.93 432.77 L490.94 433.27 L491.95 433.76 L492.97 434.23 L493.99 434.69 L495.02 435.13 L496.04 435.56 L497.07 435.98 L498.11 436.40 L499.14 436.79 L500.18 437.18 L501.23 437.56 L502.27 437.93 L503.32 438.29 L504.37 438.63 L505.42 438.97 L506.48 439.30 L507.53 439.62 L508.59 439.93 L509.66 440.22 L510.72 440.51 L511.79 440.80 L512.86 441.07 L513.93 441.33 L515.00 441.59 L516.08 441.83 L517.15 442.07 L518.23 442.30 L519.31 442.52 L520.39 442.74 L521.48 442.95 L522.56 443.15 L523.65 443.34 L524.74 443.53 L525.83 443.71 L526.92 443.88 L528.02 444.04 L529.11 444.20 L530.21 444.36 L531.30 444.51 L532.40 444.65 L533.50 444.78 L534.60 444.91 L535.70 445.04 L536.80 445.16 L537.91 445.27 L539.01 445.39 L540.11 445.49 L541.22 445.59 L542.33 445.69 L543.43 445.78 L544.54 445.87 L545.65 445.95 L546.75 446.04 L547.86 446.11 L548.97 446.19 L550.08 446.26 L551.19 446.33 L552.30 446.39 L553.41 446.45 L554.52 446.51 L555.63 446.57 L556.74 446.63 L557.85 446.68 L558.96 446.73 L560.07 446.78 L561.18 446.83 L562.28 446.88 L563.39 446.92 L564.50 446.97 L565.61 447.01 L566.72 447.05 L567.82 447.09 L568.93 447.13 L570.04 447.17 L571.15 447.21 L572.25 447.24 L573.36 447.28 L574.47 447.31 L575.57 447.33 L576.68 447.36 L577.78 447.38 L578.89 447.40 L580.00 447.42 L581.10 447.44 L582.21 447.45 L583.31 447.46 L584.41 447.47 L585.52 447.47 L586.62 447.47 L587.73 447.46 L588.83 447.46 L589.93 447.44 L591.04 447.43 L592.14 447.41 L593.24 447.39 L594.34 447.36 L595.44 447.33 L596.54 447.29 L597.65 447.25 L598.75 447.20 L599.85 447.15 L600.95 447.09 L602.04 447.03 L603.14 446.97 L604.24 446.90 L605.34 446.82 L606.44 446.73 L607.54 446.65 L608.63 446.55 L609.73 446.45 L610.82 446.34 L611.92 446.23 L613.02 446.11 L614.11 445.99 L615.20 445.86 L616.30 445.72 L617.39 445.57 L618.49 445.42 L619.58 445.27 L620.67 445.10 L621.76 444.93 L622.85 444.75 L623.94 444.56 L625.03 444.36 L626.12 444.16 L627.21 443.95 L628.30 443.73 L629.39 443.50 L630.48 443.27 L631.56 443.02 L632.65 442.77 L633.74 442.51 L634.82 442.23 L635.91 441.95 L636.99 441.67 L638.07 441.37 L639.16 441.06 L640.24 440.74 L641.32 440.41 L642.40 440.07 L643.48 439.71 L644.55 439.32 L645.62 438.92 L646.67 438.49 L647.71 438.03 L648.74 437.54 L649.75 437.02 L650.75 436.46 L651.72 435.86 L652.67 435.23 L653.59 434.55 L654.49 433.85 L655.36 433.11 L656.20 432.34 L657.02 431.54 L657.82 430.72 L658.59 429.88 L659.34 429.02 L660.06 428.13 L660.76 427.24 L661.44 426.33 L662.10 425.40 L662.73 424.47 L663.35 423.52 L663.94 422.57 L664.52 421.60 L665.07 420.63 L665.61 419.64 L666.13 418.65 L666.64 417.65 L667.12 416.65 L667.59 415.63 L668.04 414.61 L668.48 413.58 L668.90 412.55 L669.31 411.51 L669.70 410.46 L670.08 409.41 L670.44 408.35 L670.79 407.29 L671.12 406.22 L671.45 405.15 L671.76 404.08 L672.06 403.00 L672.34 401.91 L672.62 400.83 L672.89 399.74 L673.15 398.65 L673.39 397.56 L673.63 396.47 L673.86 395.37 L674.08 394.28 L674.30 393.18 L674.50 392.08 L674.70 390.98 L674.89 389.89 L675.08 388.79 L675.26 387.69 L675.44 386.60 L675.61 385.50 L675.77 384.40 L675.93 383.30 L676.08 382.21 L676.23 381.11 L676.37 380.01 L676.51 378.92 L676.64 377.82 L676.77 376.72 L676.89 375.63 L677.01 374.53 L677.11 373.43 L677.22 372.34 L677.32 371.24 L677.41 370.14 L677.50 369.04 L677.59 367.95 L677.68 366.85 L677.76 365.75 L677.83 364.65 L677.91 363.56 L677.98 362.46 L678.04 361.36 L678.11 360.26 L678.17 359.17 L678.22 358.07 L678.28 356.97 L678.33 355.87 L678.38 354.77 L678.43 353.67 L678.48 352.58 L678.52 351.48 L678.56 350.38 L678.60 349.28 L678.64 348.18 L678.68 347.08 L678.72 345.98 L678.75 344.88 L678.78 343.78 L678.82 342.68 L678.85 341.58 L678.88 340.48 L678.91 339.38 L678.94 338.28 L678.97 337.17 L678.99 336.07 L679.02 334.97 L679.05 333.87 L679.08 332.77 L679.11 331.66 L679.14 330.56 L679.16 329.45 L679.19 328.35 L679.22 327.25 L679.25 326.14 L679.28 325.04 L679.32 323.93 L679.35 322.82 L679.38 321.72 L678.19 321.67 L678.14 322.78 L678.09 323.88 L678.04 324.99 L677.99 326.10 L677.95 327.20 L677.90 328.31 L677.85 329.41 L677.81 330.51 L677.77 331.62 L677.72 332.72 L677.68 333.82 L677.64 334.93 L677.59 336.03 L677.55 337.13 L677.50 338.23 L677.46 339.33 L677.41 340.43 L677.37 341.53 L677.32 342.63 L677.27 343.72 L677.22 344.82 L677.17 345.92 L677.12 347.02 L677.07 348.11 L677.01 349.21 L676.95 350.31 L676.90 351.40 L676.83 352.50 L676.77 353.59 L676.71 354.68 L676.64 355.78 L676.57 356.87 L676.50 357.96 L676.42 359.06 L676.34 360.15 L676.26 361.24 L676.18 362.33 L676.09 363.42 L676.00 364.51 L675.91 365.60 L675.81 366.69 L675.71 367.78 L675.60 368.87 L675.50 369.96 L675.38 371.05 L675.27 372.14 L675.15 373.23 L675.02 374.31 L674.90 375.40 L674.77 376.49 L674.63 377.58 L674.50 378.66 L674.35 379.75 L674.20 380.84 L674.05 381.92 L673.89 383.01 L673.73 384.09 L673.56 385.18 L673.38 386.27 L673.20 387.35 L673.02 388.44 L672.82 389.52 L672.62 390.60 L672.42 391.69 L672.20 392.77 L671.98 393.85 L671.75 394.93 L671.52 396.00 L671.27 397.08 L671.02 398.15 L670.76 399.22 L670.48 400.28 L670.20 401.34 L669.91 402.40 L669.61 403.45 L669.29 404.50 L668.97 405.55 L668.63 406.58 L668.28 407.62 L667.92 408.64 L667.54 409.66 L667.15 410.68 L666.75 411.68 L666.34 412.69 L665.91 413.68 L665.47 414.66 L665.01 415.64 L664.53 416.61 L664.04 417.57 L663.54 418.52 L663.01 419.46 L662.47 420.40 L661.91 421.32 L661.34 422.23 L660.74 423.14 L660.13 424.03 L659.50 424.91 L658.85 425.78 L658.19 426.63 L657.50 427.47 L656.79 428.28 L656.07 429.08 L655.32 429.85 L654.56 430.59 L653.77 431.30 L652.97 431.99 L652.14 432.64 L651.29 433.26 L650.43 433.85 L649.53 434.40 L648.62 434.92 L647.68 435.42 L646.72 435.88 L645.74 436.32 L644.75 436.74 L643.73 437.13 L642.71 437.50 L641.67 437.86 L640.63 438.20 L639.57 438.53 L638.51 438.85 L637.45 439.16 L636.39 439.45 L635.32 439.74 L634.26 440.02 L633.19 440.29 L632.12 440.56 L631.05 440.81 L629.98 441.05 L628.91 441.29 L627.84 441.52 L626.77 441.74 L625.70 441.95 L624.63 442.16 L623.55 442.35 L622.48 442.54 L621.40 442.73 L620.33 442.90 L619.25 443.07 L618.17 443.23 L617.09 443.38 L616.01 443.53 L614.93 443.67 L613.85 443.80 L612.77 443.93 L611.69 444.04 L610.61 444.16 L609.52 444.26 L608.44 444.36 L607.35 444.45 L606.27 444.54 L605.18 444.62 L604.09 444.70 L603.01 444.77 L601.92 444.84 L600.83 444.90 L599.74 444.95 L598.65 445.00 L597.56 445.05 L596.47 445.09 L595.37 445.13 L594.28 445.16 L593.19 445.19 L592.10 445.21 L591.00 445.23 L589.91 445.24 L588.81 445.26 L587.72 445.26 L586.62 445.27 L585.52 445.27 L584.42 445.27 L583.33 445.26 L582.23 445.25 L581.13 445.24 L580.03 445.22 L578.93 445.20 L577.83 445.18 L576.73 445.16 L575.63 445.13 L574.52 445.11 L573.42 445.08 L572.32 445.04 L571.22 445.01 L570.11 444.97 L569.01 444.94 L567.90 444.90 L566.80 444.86 L565.69 444.81 L564.59 444.77 L563.48 444.73 L562.38 444.68 L561.27 444.63 L560.16 444.58 L559.06 444.54 L557.95 444.48 L556.85 444.43 L555.74 444.38 L554.64 444.32 L553.53 444.26 L552.43 444.20 L551.32 444.13 L550.22 444.06 L549.12 443.99 L548.01 443.92 L546.91 443.84 L545.81 443.76 L544.71 443.68 L543.61 443.59 L542.51 443.50 L541.42 443.40 L540.32 443.30 L539.22 443.20 L538.13 443.09 L537.04 442.97 L535.94 442.85 L534.85 442.73 L533.76 442.60 L532.68 442.46 L531.59 442.32 L530.51 442.18 L529.42 442.03 L528.34 441.87 L527.26 441.70 L526.18 441.53 L525.10 441.36 L524.03 441.17 L522.96 440.98 L521.89 440.78 L520.82 440.58 L519.75 440.37 L518.68 440.15 L517.62 439.92 L516.56 439.69 L515.50 439.44 L514.45 439.19 L513.39 438.93 L512.34 438.67 L511.29 438.39 L510.24 438.10 L509.20 437.81 L508.16 437.51 L507.12 437.20 L506.08 436.87 L505.05 436.54 L504.02 436.20 L502.99 435.85 L501.97 435.49 L500.94 435.12 L499.93 434.74 L498.91 434.35 L497.90 433.94 L496.89 433.53 L495.88 433.11 L494.88 432.67 L493.88 432.22 L492.88 431.77 L491.88 431.31 L490.89 430.83 L489.91 430.34 L488.93 429.84 L487.96 429.33 L487.00 428.80 L486.05 428.26 L485.11 427.70 L484.18 427.13 L483.27 426.54 L482.36 425.94 L481.47 425.32 L480.59 424.69 L479.73 424.05 L478.88 423.39 L478.04 422.72 L477.22 422.03 L476.42 421.32 L475.64 420.60 L474.88 419.85 L474.13 419.09 L473.41 418.31 L472.71 417.51 L472.03 416.69 L471.36 415.86 L470.72 415.01 L470.08 414.15 L469.46 413.27 L468.85 412.38 L468.26 411.48 L467.69 410.56 L467.13 409.63 L466.58 408.69 L466.05 407.74 L465.52 406.78 L465.01 405.81 L464.52 404.83 L464.03 403.84 L463.56 402.85 L463.09 401.85 L462.64 400.84 L462.20 399.83 L461.76 398.81 L461.34 397.79 L460.92 396.77 L460.51 395.74 L460.11 394.71 L459.71 393.68 L459.32 392.65 L458.94 391.62 L458.57 390.58 L458.21 389.55 L457.85 388.51 L457.50 387.47 L457.16 386.42 L456.82 385.38 L456.49 384.33 L456.17 383.29 L455.85 382.24 L455.54 381.19 L455.24 380.13 L454.95 379.08 L454.66 378.02 L454.37 376.97 L454.09 375.91 L453.82 374.85 L453.56 373.79 L453.30 372.73 L453.04 371.66 L452.79 370.60 L452.55 369.53 L452.31 368.46 L452.08 367.40 L451.85 366.33 L451.63 365.25 L451.42 364.18 L451.21 363.11 L451.00 362.03 L450.80 360.96 L450.60 359.88 L450.41 358.80 L450.22 357.72 L450.04 356.64 L449.86 355.56 L449.69 354.48 L449.52 353.40 L449.36 352.31 L449.20 351.23 L449.04 350.14 L448.89 349.05 L448.74 347.97 L448.60 346.88 L448.46 345.79 L448.32 344.70 L448.19 343.61 L448.07 342.52 L447.94 341.42 L447.83 340.33 L447.71 339.24 L447.60 338.14 L447.49 337.05 L447.39 335.95 L447.28 334.86 L447.18 333.76 L447.09 332.66 L446.99 331.56 L446.90 330.47 L446.81 329.37 L446.73 328.27 L446.64 327.17 L446.56 326.07 L446.48 324.97 L446.41 323.87 L446.33 322.77 L446.26 321.67 L446.19 320.57 L446.12 319.47 L446.05 318.37 L445.99 317.27 L445.93 316.17 L445.86 315.07 L445.80 313.97 L445.75 312.86 L445.69 311.76 L445.63 310.66 L445.58 309.56 L445.52 308.46 L445.47 307.36 L445.42 306.26 L445.37 305.16 L445.31 304.06 L445.26 302.96 L445.21 301.86 L445.16 300.76 L445.11 299.66 L445.06 298.56 L445.02 297.46 L444.97 296.36 L444.92 295.26 L444.87 294.16 L444.82 293.06 L444.77 291.97 L444.72 290.87 Z" fill="#008000" fill-opacity="0.75" clip-path="url(#c4)"/>
<path d="M444.02 291.22 L444.07 292.31 L444.12 293.41 L444.17 294.51 L444.22 295.60 L444.27 296.70 L444.32 297.80 L444.37 298.90 L444.42 300.00 L444.46 301.10 L444.51 302.20 L444.57 303.30 L444.62 304.40 L444.67 305.50 L444.72 306.60 L444.77 307.71 L444.82 308.81 L444.88 309.91 L444.93 311.01 L444.99 312.11 L445.05 313.22 L445.11 314.32 L445.17 315.42 L445.23 316.52 L445.29 317.63 L445.35 318.73 L445.42 319.83 L445.49 320.93 L445.55 322.04 L445.62 323.14 L445.69 324.24 L445.76 325.34 L445.84 326.44 L445.92 327.55 L446.00 328.65 L446.08 329.75 L446.16 330.85 L446.25 331.95 L446.34 333.05 L446.43 334.15 L446.53 335.25 L446.63 336.35 L446.73 337.45 L446.83 338.55 L446.94 339.64 L447.05 340.74 L447.16 341.84 L447.28 342.94 L447.40 344.03 L447.53 345.13 L447.65 346.22 L447.78 347.32 L447.91 348.41 L448.04 349.51 L448.18 350.60 L448.33 351.69 L448.47 352.78 L448.63 353.87 L448.78 354.96 L448.94 356.05 L449.11 357.14 L449.28 358.23 L449.45 359.32 L449.63 360.40 L449.82 361.49 L450.01 362.57 L450.20 363.65 L450.40 364.74 L450.61 365.82 L450.82 366.90 L451.03 367.98 L451.25 369.06 L451.48 370.13 L451.72 371.21 L451.95 372.28 L452.20 373.36 L452.45 374.43 L452.71 375.50 L452.97 376.57 L453.24 377.64 L453.51 378.71 L453.79 379.78 L454.08 380.84 L454.38 381.91 L454.68 382.97 L454.99 384.03 L455.30 385.09 L455.63 386.15 L455.96 387.20 L456.29 388.26 L456.63 389.31 L456.98 390.37 L457.34 391.42 L457.71 392.47 L458.08 393.51 L458.46 394.56 L458.84 395.61 L459.24 396.65 L459.64 397.69 L460.05 398.73 L460.47 399.77 L460.90 400.81 L461.33 401.84 L461.78 402.87 L462.24 403.89 L462.71 404.91 L463.19 405.93 L463.68 406.94 L464.18 407.94 L464.70 408.93 L465.24 409.91 L465.78 410.89 L466.35 411.85 L466.93 412.81 L467.52 413.75 L468.13 414.68 L468.76 415.60 L469.41 416.50 L470.09 417.39 L470.78 418.26 L471.49 419.11 L472.22 419.95 L472.98 420.77 L473.75 421.57 L474.54 422.36 L475.35 423.12 L476.17 423.87 L477.02 424.60 L477.88 425.31 L478.76 426.01 L479.65 426.68 L480.56 427.34 L481.48 427.98 L482.42 428.60 L483.36 429.21 L484.32 429.80 L485.29 430.38 L486.26 430.94 L487.25 431.49 L488.24 432.03 L489.23 432.56 L490.23 433.07 L491.24 433.57 L492.25 434.06 L493.27 434.53 L494.29 434.99 L495.32 435.43 L496.34 435.86 L497.37 436.28 L498.41 436.70 L499.44 437.09 L500.48 437.48 L501.53 437.86 L502.57 438.23 L503.62 438.59 L504.67 438.93 L505.72 439.27 L506.78 439.60 L507.83 439.92 L508.89 440.23 L509.96 440.52 L511.02 440.81 L512.09 441.10 L513.16 441.37 L514.23 441.63 L515.30 441.89 L516.38 442.13 L517.45 442.37 L518.53 442.60 L519.61 442.82 L520.69 443.04 L521.78 443.25 L522.86 443.45 L523.95 443.64 L525.04 443.83 L526.13 444.01 L527.22 444.18 L528.32 444.34 L529.41 444.50 L530.51 444.66 L531.60 444.81 L532.70 444.95 L533.80 445.08 L534.90 445.21 L536.00 445.34 L537.10 445.46 L538.21 445.57 L539.31 445.69 L540.41 445.79 L541.52 445.89 L542.63 445.99 L543.73 446.08 L544.84 446.17 L545.95 446.25 L547.05 446.34 L548.16 446.41 L549.27 446.49 L550.38 446.56 L551.49 446.63 L552.60 446.69 L553.71 446.75 L554.82 446.81 L555.93 446.87 L557.04 446.93 L558.15 446.98 L559.26 447.03 L560.37 447.08 L561.48 447.13 L562.58 447.18 L563.69 447.22 L564.80 447.27 L565.91 447.31 L567.02 447.35 L568.12 447.39 L569.23 447.43 L570.34 447.47 L571.45 447.51 L572.55 447.54 L573.66 447.58 L574.77 447.61 L575.87 447.63 L576.98 447.66 L578.08 447.68 L579.19 447.70 L580.30 447.72 L581.40 447.74 L582.51 447.75 L583.61 447.76 L584.71 447.77 L585.82 447.77 L586.92 447.77 L588.03 447.76 L589.13 447.76 L590.23 447.74 L591.34 447.73 L592.44 447.71 L593.54 447.69 L594.64 447.66 L595.74 447.63 L596.84 447.59 L597.95 447.55 L599.05 447.50 L600.15 447.45 L601.25 447.39 L602.34 447.33 L603.44 447.27 L604.54 447.20 L605.64 447.12 L606.74 447.03 L607.84 446.95 L608.93 446.85 L610.03 446.75 L611.12 446.64 L612.22 446.53 L613.32 446.41 L614.41 446.29 L615.50 446.16 L616.60 446.02 L617.69 445.87 L618.79 445.72 L619.88 445.57 L620.97 445.40 L622.06 445.23 L623.15 445.05 L624.24 444.86 L625.33 444.66 L626.42 444.46 L627.51 444.25 L628.60 444.03 L629.69 443.80 L630.78 443.57 L631.86 443.32 L632.95 443.07 L634.04 442.81 L635.12 442.53 L636.21 442.25 L637.29 441.97 L638.37 441.67 L639.46 441.36 L640.54 441.04 L641.62 440.71 L642.70 440.37 L643.78 440.01 L644.85 439.62 L645.92 439.22 L646.97 438.79 L648.01 438.33 L649.04 437.84 L650.05 437.32 L651.05 436.76 L652.02 436.16 L652.97 435.53 L653.89 434.85 L654.79 434.15 L655.66 433.41 L656.50 432.64 L657.32 431.84 L658.12 431.02 L658.89 430.18 L659.64 429.32 L660.36 428.43 L661.06 427.54 L661.74 426.63 L662.40 425.70 L663.03 424.77 L663.65 423.82 L664.24 422.87 L664.82 421.90 L665.37 420.93 L665.91 419.94 L666.43 418.95 L666.94 417.95 L667.42 416.95 L667.89 415.93 L668.34 414.91 L668.78 413.88 L669.20 412.85 L669.61 411.81 L670.00 410.76 L670.38 409.71 L670.74 408.65 L671.09 407.59 L671.42 406.52 L671.75 405.45 L672.06 404.38 L672.36 403.30 L672.64 402.21 L672.92 401.13 L673.19 400.04 L673.45 398.95 L673.69 397.86 L673.93 396.77 L674.16 395.67 L674.38 394.58 L674.60 393.48 L674.80 392.38 L675.00 391.28 L675.19 390.19 L675.38 389.09 L675.56 387.99 L675.74 386.90 L675.91 385.80 L676.07 384.70 L676.23 383.60 L676.38 382.51 L676.53 381.41 L676.67 380.31 L676.81 379.22 L676.94 378.12 L677.07 377.02 L677.19 375.93 L677.31 374.83 L677.41 373.73 L677.52 372.64 L677.62 371.54 L677.71 370.44 L677.80 369.34 L677.89 368.25 L677.98 367.15 L678.06 366.05 L678.13 364.95 L678.21 363.86 L678.28 362.76 L678.34 361.66 L678.41 360.56 L678.47 359.47 L678.52 358.37 L678.58 357.27 L678.63 356.17 L678.68 355.07 L678.73 353.97 L678.78 352.88 L678.82 351.78 L678.86 350.68 L678.90 349.58 L678.94 348.48 L678.98 347.38 L679.02 346.28 L679.05 345.18 L679.08 344.08 L679.12 342.98 L679.15 341.88 L679.18 340.78 L679.21 339.68 L679.24 338.58 L679.27 337.47 L679.29 336.37 L679.32 335.27 L679.35 334.17 L679.38 333.07 L679.41 331.96 L679.44 330.86 L679.46 329.75 L679.49 328.65 L679.52 327.55 L679.55 326.44 L679.58 325.34 L679.62 324.23 L679.65 323.12 L679.68 322.02 L678.49 321.97 L678.44 323.08 L678.39 324.18 L678.34 325.29 L678.29 326.40 L678.25 327.50 L678.20 328.61 L678.15 329.71 L678.11 330.81 L678.07 331.92 L678.02 333.02 L677.98 334.12 L677.94 335.23 L677.89 336.33 L677.85 337.43 L677.80 338.53 L677.76 339.63 L677.71 340.73 L677.67 341.83 L677.62 342.93 L677.57 344.02 L677.52 345.12 L677.47 346.22 L677.42 347.32 L677.37 348.41 L677.31 349.51 L677.25 350.61 L677.20 351.70 L677.13 352.80 L677.07 353.89 L677.01 354.98 L676.94 356.08 L676.87 357.17 L676.80 358.26 L676.72 359.36 L676.64 360.45 L676.56 361.54 L676.48 362.63 L676.39 363.72 L676.30 364.81 L676.21 365.90 L676.11 366.99 L676.01 368.08 L675.90 369.17 L675.80 370.26 L675.68 371.35 L675.57 372.44 L675.45 373.53 L675.32 374.61 L675.20 375.70 L675.07 376.79 L674.93 377.88 L674.80 378.96 L674.65 380.05 L674.50 381.14 L674.35 382.22 L674.19 383.31 L674.03 384.39 L673.86 385.48 L673.68 386.57 L673.50 387.65 L673.32 388.74 L673.12 389.82 L672.92 390.90 L672.72 391.99 L672.50 393.07 L672.28 394.15 L672.05 395.23 L671.82 396.30 L671.57 397.38 L671.32 398.45 L671.06 399.52 L670.78 400.58 L670.50 401.64 L670.21 402.70 L669.91 403.75 L669.59 404.80 L669.27 405.85 L668.93 406.88 L668.58 407.92 L668.22 408.94 L667.84 409.96 L667.45 410.98 L667.05 411.98 L666.64 412.99 L666.21 413.98 L665.77 414.96 L665.31 415.94 L664.83 416.91 L664.34 417.87 L663.84 418.82 L663.31 419.76 L662.77 420.70 L662.21 421.62 L661.64 422.53 L661.04 423.44 L660.43 424.33 L659.80 425.21 L659.15 426.08 L658.49 426.93 L657.80 427.77 L657.09 428.58 L656.37 429.38 L655.62 430.15 L654.86 430.89 L654.07 431.60 L653.27 432.29 L652.44 432.94 L651.59 433.56 L650.73 434.15 L649.83 434.70 L648.92 435.22 L647.98 435.72 L647.02 436.18 L646.04 436.62 L645.05 437.04 L644.03 437.43 L643.01 437.80 L641.97 438.16 L640.93 438.50 L639.87 438.83 L638.81 439.15 L637.75 439.46 L636.69 439.75 L635.62 440.04 L634.56 440.32 L633.49 440.59 L632.42 440.86 L631.35 441.11 L630.28 441.35 L629.21 441.59 L628.14 441.82 L627.07 442.04 L626.00 442.25 L624.93 442.46 L623.85 442.65 L622.78 442.84 L621.70 443.03 L620.63 443.20 L619.55 443.37 L618.47 443.53 L617.39 443.68 L616.31 443.83 L615.23 443.97 L614.15 444.10 L613.07 444.23 L611.99 444.34 L610.91 444.46 L609.82 444.56 L608.74 444.66 L607.65 444.75 L606.57 444.84 L605.48 444.92 L604.39 445.00 L603.31 445.07 L602.22 445.14 L601.13 445.20 L600.04 445.25 L598.95 445.30 L597.86 445.35 L596.77 445.39 L595.67 445.43 L594.58 445.46 L593.49 445.49 L592.40 445.51 L591.30 445.53 L590.21 445.54 L589.11 445.56 L588.02 445.56 L586.92 445.57 L585.82 445.57 L584.72 445.57 L583.63 445.56 L582.53 445.55 L581.43 445.54 L580.33 445.52 L579.23 445.50 L578.13 445.48 L577.03 445.46 L575.93 445.43 L574.82 445.41 L573.72 445.38 L572.62 445.34 L571.52 445.31 L570.41 445.27 L569.31 445.24 L568.20 445.20 L567.10 445.16 L565.99 445.11 L564.89 445.07 L563.78 445.03 L562.68 444.98 L561.57 444.93 L560.46 444.88 L559.36 444.84 L558.25 444.78 L557.15 444.73 L556.04 444.68 L554.94 444.62 L553.83 444.56 L552.73 444.50 L551.62 444.43 L550.52 444.36 L549.42 444.29 L548.31 444.22 L547.21 444.14 L546.11 444.06 L545.01 443.98 L543.91 443.89 L542.81 443.80 L541.72 443.70 L540.62 443.60 L539.52 443.50 L538.43 443.39 L537.34 443.27 L536.24 443.15 L535.15 443.03 L534.06 442.90 L532.98 442.76 L531.89 442.62 L530.81 442.48 L529.72 442.33 L528.64 442.17 L527.56 442.00 L526.48 441.83 L525.40 441.66 L524.33 441.47 L523.26 441.28 L522.19 441.08 L521.12 440.88 L520.05 440.67 L518.98 440.45 L517.92 440.22 L516.86 439.99 L515.80 439.74 L514.75 439.49 L513.69 439.23 L512.64 438.97 L511.59 438.69 L510.54 438.40 L509.50 438.11 L508.46 437.81 L507.42 437.50 L506.38 437.17 L505.35 436.84 L504.32 436.50 L503.29 436.15 L502.27 435.79 L501.24 435.42 L500.23 435.04 L499.21 434.65 L498.20 434.24 L497.19 433.83 L496.18 433.41 L495.18 432.97 L494.18 432.52 L493.18 432.07 L492.18 431.61 L491.19 431.13 L490.21 430.64 L489.23 430.14 L488.26 429.63 L487.30 429.10 L486.35 428.56 L485.41 428.00 L484.48 427.43 L483.57 426.84 L482.66 426.24 L481.77 425.62 L480.89 424.99 L480.03 424.35 L479.18 423.69 L478.34 423.02 L477.52 422.33 L476.72 421.62 L475.94 420.90 L475.18 420.15 L474.43 419.39 L473.71 418.61 L473.01 417.81 L472.33 416.99 L471.66 416.16 L471.02 415.31 L470.38 414.45 L469.76 413.57 L469.15 412.68 L468.56 411.78 L467.99 410.86 L467.43 409.93 L466.88 408.99 L466.35 408.04 L465.82 407.08 L465.31 406.11 L464.82 405.13 L464.33 404.14 L463.86 403.15 L463.39 402.15 L462.94 401.14 L462.50 400.13 L462.06 399.11 L461.64 398.09 L461.22 397.07 L460.81 396.04 L460.41 395.01 L460.01 393.98 L459.62 392.95 L459.24 391.92 L458.87 390.88 L458.51 389.85 L458.15 388.81 L457.80 387.77 L457.46 386.72 L457.12 385.68 L456.79 384.63 L456.47 383.59 L456.15 382.54 L455.84 381.49 L455.54 380.43 L455.25 379.38 L454.96 378.32 L454.67 377.27 L454.39 376.21 L454.12 375.15 L453.86 374.09 L453.60 373.03 L453.34 371.96 L453.09 370.90 L452.85 369.83 L452.61 368.76 L452.38 367.70 L452.15 366.63 L451.93 365.55 L451.72 364.48 L451.51 363.41 L451.30 362.33 L451.10 361.26 L450.90 360.18 L450.71 359.10 L450.52 358.02 L450.34 356.94 L450.16 355.86 L449.99 354.78 L449.82 353.70 L449.66 352.61 L449.50 351.53 L449.34 350.44 L449.19 349.35 L449.04 348.27 L448.90 347.18 L448.76 346.09 L448.62 345.00 L448.49 343.91 L448.37 342.82 L448.24 341.72 L448.13 340.63 L448.01 339.54 L447.90 338.44 L447.79 337.35 L447.69 336.25 L447.58 335.16 L447.48 334.06 L447.39 332.96 L447.29 331.86 L447.20 330.77 L447.11 329.67 L447.03 328.57 L446.94 327.47 L446.86 326.37 L446.78 325.27 L446.71 324.17 L446.63 323.07 L446.56 321.97 L446.49 320.87 L446.42 319.77 L446.35 318.67 L446.29 317.57 L446.23 316.47 L446.16 315.37 L446.10 314.27 L446.05 313.16 L445.99 312.06 L445.93 310.96 L445.88 309.86 L445.82 308.76 L445.77 307.66 L445.72 306.56 L445.67 305.46 L445.61 304.36 L445.56 303.26 L445.51 302.16 L445.46 301.06 L445.41 299.96 L445.36 298.86 L445.32 297.76 L445.27 296.66 L445.22 295.56 L445.17 294.46 L445.12 293.36 L445.07 292.27 L445.02 291.17 Z" fill="#00ffff" clip-path="url(#c4)"/>
<rect x="444.5" y="273.8" width="234.60000000000002" height="181.09999999999997" fill="none" stroke="#222" stroke-width="1.2"/>
<line x1="470.40" y1="454.9" x2="470.40" y2="457.7" stroke="#222" stroke-width="1.0"/>
<text transform="translate(470.40 472.10) scale(1.015 1)" font-size="15.5" text-anchor="middle">0.1</text>
<line x1="499.39" y1="454.9" x2="499.39" y2="457.7" stroke="#222" stroke-width="1.0"/>
<text transform="translate(499.39 472.10) scale(1.015 1)" font-size="15.5" text-anchor="middle">0.2</text>
<line x1="528.38" y1="454.9" x2="528.38" y2="457.7" stroke="#222" stroke-width="1.0"/>
<text transform="translate(528.38 472.10) scale(1.015 1)" font-size="15.5" text-anchor="middle">0.3</text>
<line x1="557.37" y1="454.9" x2="557.37" y2="457.7" stroke="#222" stroke-width="1.0"/>
<text transform="translate(557.37 472.10) scale(1.015 1)" font-size="15.5" text-anchor="middle">0.4</text>
<line x1="586.36" y1="454.9" x2="586.36" y2="457.7" stroke="#222" stroke-width="1.0"/>
<text transform="translate(586.36 472.10) scale(1.015 1)" font-size="15.5" text-anchor="middle">0.5</text>
<line x1="615.35" y1="454.9" x2="615.35" y2="457.7" stroke="#222" stroke-width="1.0"/>
<text transform="translate(615.35 472.10) scale(1.015 1)" font-size="15.5" text-anchor="middle">0.6</text>
<line x1="644.34" y1="454.9" x2="644.34" y2="457.7" stroke="#222" stroke-width="1.0"/>
<text transform="translate(644.34 472.10) scale(1.015 1)" font-size="15.5" text-anchor="middle">0.7</text>
<line x1="673.33" y1="454.9" x2="673.33" y2="457.7" stroke="#222" stroke-width="1.0"/>
<text transform="translate(673.33 472.10) scale(1.015 1)" font-size="15.5" text-anchor="middle">0.8</text>
<line x1="441.7" y1="275.20" x2="444.5" y2="275.20" stroke="#222" stroke-width="1.0"/>
<text transform="translate(439.20 280.90) scale(1.015 1)" font-size="15.5" text-anchor="end">0.05</text>
<line x1="441.7" y1="297.38" x2="444.5" y2="297.38" stroke="#222" stroke-width="1.0"/>
<text transform="translate(439.20 303.07) scale(1.015 1)" font-size="15.5" text-anchor="end">0.00</text>
<line x1="441.7" y1="319.55" x2="444.5" y2="319.55" stroke="#222" stroke-width="1.0"/>
<text transform="translate(439.20 325.25) scale(1.015 1)" font-size="15.5" text-anchor="end">−0.05</text>
<line x1="441.7" y1="341.73" x2="444.5" y2="341.73" stroke="#222" stroke-width="1.0"/>
<text transform="translate(439.20 347.43) scale(1.015 1)" font-size="15.5" text-anchor="end">−0.10</text>
<line x1="441.7" y1="363.90" x2="444.5" y2="363.90" stroke="#222" stroke-width="1.0"/>
<text transform="translate(439.20 369.60) scale(1.015 1)" font-size="15.5" text-anchor="end">−0.15</text>
<line x1="441.7" y1="386.07" x2="444.5" y2="386.07" stroke="#222" stroke-width="1.0"/>
<text transform="translate(439.20 391.77) scale(1.015 1)" font-size="15.5" text-anchor="end">−0.20</text>
<line x1="441.7" y1="408.25" x2="444.5" y2="408.25" stroke="#222" stroke-width="1.0"/>
<text transform="translate(439.20 413.95) scale(1.015 1)" font-size="15.5" text-anchor="end">−0.25</text>
<line x1="441.7" y1="430.42" x2="444.5" y2="430.42" stroke="#222" stroke-width="1.0"/>
<text transform="translate(439.20 436.12) scale(1.015 1)" font-size="15.5" text-anchor="end">−0.30</text>
<line x1="441.7" y1="452.60" x2="444.5" y2="452.60" stroke="#222" stroke-width="1.0"/>
<text transform="translate(439.20 458.30) scale(1.015 1)" font-size="15.5" text-anchor="end">−0.35</text>
<text transform="translate(561.50 492.20) scale(1.03 1)" font-size="15.5" text-anchor="middle"><tspan font-style="italic">q</tspan><tspan font-size="10.5" dy="-6.7">2</tspan><tspan dy="6.7"> [GeV</tspan><tspan font-size="10.5" dy="-6.7">2</tspan><tspan dy="6.7">]</tspan></text>
<text transform="translate(383.40 365.40) rotate(-90) scale(1.03 1)" font-size="15.5" text-anchor="middle"><tspan font-style="italic">A</tspan><tspan font-style="italic" font-size="10.85" dy="2.6">π</tspan><tspan font-size="10.85">/3</tspan><tspan dy="-2.6">(</tspan><tspan font-style="italic">q</tspan><tspan font-size="10.5" dy="-6.7">2</tspan><tspan dy="6.7">)</tspan></text>
<rect x="613.5" y="279.25" width="59.75" height="38.25" rx="2" ry="2" fill="#fff" fill-opacity="0.8" stroke="#cccccc" stroke-width="1"/>
<rect x="617.75" y="285" width="24.5" height="8.75" fill="#008000"/>
<rect x="617.75" y="302" width="24.5" height="8.75" fill="#00ffff"/>
<text class="lg" transform="translate(651.40 293.55) scale(0.91 1)" font-size="12.7" text-anchor="start">SM</text>
<text class="lg" transform="translate(651.40 310.55) scale(0.91 1)" font-size="12.7" text-anchor="start">NP</text>
</svg>
</body></html>
